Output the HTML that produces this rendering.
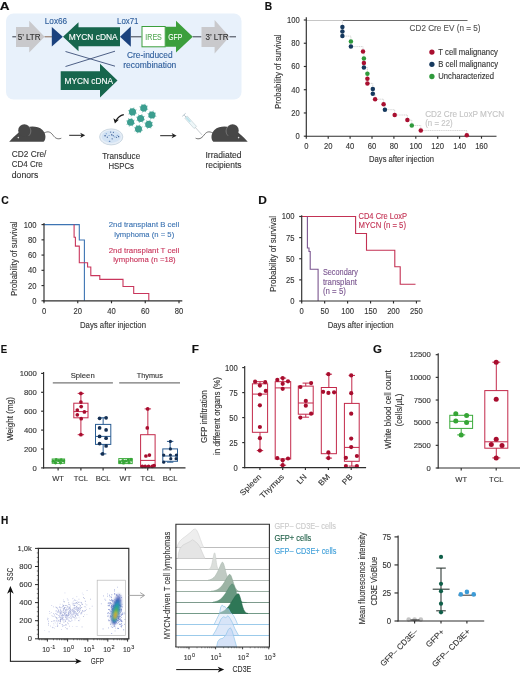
<!DOCTYPE html><html><head><meta charset="utf-8"><style>html,body{margin:0;padding:0;background:#fff;width:520px;height:675px;overflow:hidden}svg{display:block;will-change:transform;font-family:"Liberation Sans",sans-serif}</style></head><body>
<svg width="520" height="675" viewBox="0 0 520 675">
<defs><filter id="blur1" x="-50%" y="-50%" width="200%" height="200%"><feGaussianBlur stdDeviation="0.85"/></filter><filter id="blur2" x="-10%" y="-10%" width="120%" height="120%"><feGaussianBlur stdDeviation="0.35"/></filter></defs>
<rect width="520" height="675" fill="#fff"/>
<text x="-0.30" y="9.97" font-size="11" font-weight="bold" fill="#111" stroke="#111" stroke-width="0.15" textLength="9.80" lengthAdjust="spacingAndGlyphs">A</text>
<rect x="6.00" y="13.50" width="235.50" height="86.00" rx="7.5" fill="#e8f1fb" stroke="none" stroke-width="1.0"/>
<line x1="12.30" y1="36.80" x2="16.00" y2="36.80" stroke="#3a3f4a" stroke-width="1"/>
<polygon points="16.00,27.00 29.20,27.00 29.20,20.80 44.60,36.80 29.20,52.50 29.20,47.00 16.00,47.00" fill="#c9c9cc" stroke="none" stroke-width="0"/>
<text x="29.20" y="39.88" font-size="8.6" fill="#333" stroke="#333" stroke-width="0.12" text-anchor="middle" textLength="23.00" lengthAdjust="spacingAndGlyphs">5’ LTR</text>
<line x1="44.60" y1="36.80" x2="52.00" y2="36.80" stroke="#8a6a55" stroke-width="1"/>
<polygon points="51.80,27.00 51.80,46.50 62.80,36.80" fill="#1b427e" stroke="none" stroke-width="0"/>
<polygon points="63.00,36.80 78.50,22.30 78.50,27.20 120.00,27.20 120.00,46.20 78.50,46.20 78.50,51.20" fill="#17664d" stroke="none" stroke-width="0"/>
<text x="93.20" y="39.95" font-size="8.8" fill="#fff" stroke="#fff" stroke-width="0.12" text-anchor="middle" textLength="49.00" lengthAdjust="spacingAndGlyphs">MYCN cDNA</text>
<polygon points="120.00,36.80 130.80,26.60 130.80,46.80" fill="#1b427e" stroke="none" stroke-width="0"/>
<line x1="130.80" y1="36.80" x2="141.50" y2="36.80" stroke="#3a3f4a" stroke-width="1"/>
<rect x="142.00" y="26.50" width="23.20" height="20.30" rx="0" fill="#fff" stroke="#3c9f3c" stroke-width="1"/>
<text x="153.60" y="39.81" font-size="8.4" fill="#5aab5a" stroke="#5aab5a" stroke-width="0.12" text-anchor="middle" textLength="16.50" lengthAdjust="spacingAndGlyphs">IRES</text>
<polygon points="165.40,26.80 176.00,26.80 176.00,20.80 192.80,36.80 176.00,52.50 176.00,46.80 165.40,46.80" fill="#3c9f3c" stroke="none" stroke-width="0"/>
<text x="175.30" y="39.88" font-size="8.6" fill="#fff" stroke="#fff" stroke-width="0.12" text-anchor="middle" textLength="14.00" lengthAdjust="spacingAndGlyphs">GFP</text>
<line x1="192.80" y1="36.80" x2="201.50" y2="36.80" stroke="#3a3f4a" stroke-width="1"/>
<polygon points="201.50,27.00 214.60,27.00 214.60,20.00 229.50,36.80 214.60,53.60 214.60,47.00 201.50,47.00" fill="#c9c9cc" stroke="none" stroke-width="0"/>
<text x="217.00" y="39.88" font-size="8.6" fill="#333" stroke="#333" stroke-width="0.12" text-anchor="middle" textLength="23.00" lengthAdjust="spacingAndGlyphs">3’ LTR</text>
<line x1="229.50" y1="36.80" x2="236.00" y2="36.80" stroke="#3a3f4a" stroke-width="1"/>
<text x="44.80" y="23.61" font-size="8.4" fill="#2d5d9b" stroke="#2d5d9b" stroke-width="0.12" textLength="22.40" lengthAdjust="spacingAndGlyphs">Lox66</text>
<text x="117.00" y="23.61" font-size="8.4" fill="#2d5d9b" stroke="#2d5d9b" stroke-width="0.12" textLength="21.50" lengthAdjust="spacingAndGlyphs">Lox71</text>
<line x1="65.50" y1="51.50" x2="115.00" y2="66.20" stroke="#3c4f78" stroke-width="0.9"/>
<line x1="65.50" y1="66.50" x2="115.00" y2="51.20" stroke="#3c4f78" stroke-width="0.9"/>
<text x="149.80" y="57.61" font-size="8.4" fill="#2d5d9b" stroke="#2d5d9b" stroke-width="0.12" text-anchor="middle" textLength="45.50" lengthAdjust="spacingAndGlyphs">Cre-induced</text>
<text x="149.80" y="68.21" font-size="8.4" fill="#2d5d9b" stroke="#2d5d9b" stroke-width="0.12" text-anchor="middle" textLength="53.00" lengthAdjust="spacingAndGlyphs">recombination</text>
<polygon points="60.70,71.20 100.00,71.20 100.00,63.70 117.50,80.50 100.00,97.50 100.00,90.00 60.70,90.00" fill="#17664d" stroke="none" stroke-width="0"/>
<text x="88.80" y="83.65" font-size="8.8" fill="#fff" stroke="#fff" stroke-width="0.12" text-anchor="middle" textLength="48.50" lengthAdjust="spacingAndGlyphs">MYCN cDNA</text>
<g>
<path d="M9.2,141.7 L43.6,141.7 C46.2,139.5 46.2,133.5 42.5,130 C38.5,126.3 31.5,126 27.5,127.3 C21,129.5 14.5,136 9.2,141.7 Z" fill="#474747"/>
<circle cx="24.3" cy="130.4" r="6.1" fill="#474747"/>
<path d="M28.6,126.4 C31.4,128.6 31.6,133 28.8,135.8" fill="none" stroke="#9a9a9a" stroke-width="0.55"/>
<circle cx="18.3" cy="137.6" r="0.8" fill="#ddd"/>
<path d="M43.6,133.2 C48.5,130.6 50.5,132 53,135.2 C55.5,138.6 58,139.6 61.3,138.2" fill="none" stroke="#474747" stroke-width="0.75"/>
</g>
<g transform="translate(256.9 0) scale(-1 1)">
<path d="M9.2,141.7 L43.6,141.7 C46.2,139.5 46.2,133.5 42.5,130 C38.5,126.3 31.5,126 27.5,127.3 C21,129.5 14.5,136 9.2,141.7 Z" fill="#474747"/>
<circle cx="24.3" cy="130.4" r="6.1" fill="#474747"/>
<path d="M28.6,126.4 C31.4,128.6 31.6,133 28.8,135.8" fill="none" stroke="#9a9a9a" stroke-width="0.55"/>
<circle cx="18.3" cy="137.6" r="0.8" fill="#ddd"/>
<path d="M43.6,133.2 C48.5,130.6 50.5,132 53,135.2 C55.5,138.6 58,139.6 61.3,138.2" fill="none" stroke="#474747" stroke-width="0.75"/>
</g>
<line x1="69.20" y1="135.30" x2="82.20" y2="135.30" stroke="#222" stroke-width="1"/>
<polygon points="85.20,135.30 80.20,132.70 81.60,135.30 80.20,137.90" fill="#222" stroke="none" stroke-width="0"/>
<line x1="160.20" y1="135.70" x2="173.60" y2="135.70" stroke="#222" stroke-width="1"/>
<polygon points="176.60,135.70 171.60,133.10 173.00,135.70 171.60,138.30" fill="#222" stroke="none" stroke-width="0"/>
<ellipse cx="111.2" cy="136.9" rx="11.6" ry="8.0" fill="#e6eef7" stroke="#c3d0dc" stroke-width="0.8"/>
<ellipse cx="111.2" cy="136.7" rx="9.6" ry="6.2" fill="#d3e3f4"/>
<circle cx="106.26" cy="133.82" r="0.55" fill="#5f8cc4" stroke="none" stroke-width="0"/>
<circle cx="113.38" cy="132.23" r="0.55" fill="#2b4f8c" stroke="none" stroke-width="0"/>
<circle cx="110.71" cy="132.10" r="0.55" fill="#2b4f8c" stroke="none" stroke-width="0"/>
<circle cx="116.57" cy="137.29" r="0.55" fill="#2b4f8c" stroke="none" stroke-width="0"/>
<circle cx="117.24" cy="135.35" r="0.55" fill="#5f8cc4" stroke="none" stroke-width="0"/>
<circle cx="113.39" cy="135.76" r="0.55" fill="#2b4f8c" stroke="none" stroke-width="0"/>
<circle cx="107.30" cy="137.16" r="0.55" fill="#2b4f8c" stroke="none" stroke-width="0"/>
<circle cx="105.37" cy="135.71" r="0.55" fill="#2b4f8c" stroke="none" stroke-width="0"/>
<circle cx="114.91" cy="136.88" r="0.55" fill="#5f8cc4" stroke="none" stroke-width="0"/>
<circle cx="109.79" cy="141.22" r="0.55" fill="#2b4f8c" stroke="none" stroke-width="0"/>
<circle cx="111.52" cy="134.79" r="0.55" fill="#2b4f8c" stroke="none" stroke-width="0"/>
<circle cx="112.07" cy="134.99" r="0.55" fill="#2b4f8c" stroke="none" stroke-width="0"/>
<circle cx="109.09" cy="135.55" r="0.55" fill="#5f8cc4" stroke="none" stroke-width="0"/>
<circle cx="118.67" cy="136.75" r="0.55" fill="#2b4f8c" stroke="none" stroke-width="0"/>
<circle cx="112.14" cy="138.86" r="0.55" fill="#2b4f8c" stroke="none" stroke-width="0"/>
<circle cx="118.63" cy="136.21" r="0.55" fill="#2b4f8c" stroke="none" stroke-width="0"/>
<circle cx="109.28" cy="141.26" r="0.55" fill="#5f8cc4" stroke="none" stroke-width="0"/>
<circle cx="104.81" cy="135.74" r="0.55" fill="#2b4f8c" stroke="none" stroke-width="0"/>
<path d="M123.8,114.6 C120.0,115.4 117.6,117.6 116.2,120.6" fill="none" stroke="#1a1a1a" stroke-width="1.3"/>
<polygon points="114.90,123.60 113.40,118.30 116.00,120.00 119.00,119.60" fill="#1a1a1a" stroke="none" stroke-width="0"/>
<line x1="135.56" y1="112.85" x2="136.89" y2="113.26" stroke="#3c9e8f" stroke-width="0.6"/>
<line x1="133.99" y1="114.73" x2="134.65" y2="115.97" stroke="#3c9e8f" stroke-width="0.6"/>
<line x1="131.55" y1="114.96" x2="131.14" y2="116.29" stroke="#3c9e8f" stroke-width="0.6"/>
<line x1="129.67" y1="113.39" x2="128.43" y2="114.05" stroke="#3c9e8f" stroke-width="0.6"/>
<line x1="129.44" y1="110.95" x2="128.11" y2="110.54" stroke="#3c9e8f" stroke-width="0.6"/>
<line x1="131.01" y1="109.07" x2="130.35" y2="107.83" stroke="#3c9e8f" stroke-width="0.6"/>
<line x1="133.45" y1="108.84" x2="133.86" y2="107.51" stroke="#3c9e8f" stroke-width="0.6"/>
<line x1="135.33" y1="110.41" x2="136.57" y2="109.75" stroke="#3c9e8f" stroke-width="0.6"/>
<circle cx="132.50" cy="111.90" r="3.55" fill="#3c9e8f" stroke="none" stroke-width="0"/>
<line x1="146.81" y1="109.05" x2="148.14" y2="109.46" stroke="#3c9e8f" stroke-width="0.6"/>
<line x1="145.24" y1="110.93" x2="145.90" y2="112.17" stroke="#3c9e8f" stroke-width="0.6"/>
<line x1="142.80" y1="111.16" x2="142.39" y2="112.49" stroke="#3c9e8f" stroke-width="0.6"/>
<line x1="140.92" y1="109.59" x2="139.68" y2="110.25" stroke="#3c9e8f" stroke-width="0.6"/>
<line x1="140.69" y1="107.15" x2="139.36" y2="106.74" stroke="#3c9e8f" stroke-width="0.6"/>
<line x1="142.26" y1="105.27" x2="141.60" y2="104.03" stroke="#3c9e8f" stroke-width="0.6"/>
<line x1="144.70" y1="105.04" x2="145.11" y2="103.71" stroke="#3c9e8f" stroke-width="0.6"/>
<line x1="146.58" y1="106.61" x2="147.82" y2="105.95" stroke="#3c9e8f" stroke-width="0.6"/>
<circle cx="143.75" cy="108.10" r="3.55" fill="#3c9e8f" stroke="none" stroke-width="0"/>
<line x1="154.96" y1="115.95" x2="156.29" y2="116.36" stroke="#3c9e8f" stroke-width="0.6"/>
<line x1="153.39" y1="117.83" x2="154.05" y2="119.07" stroke="#3c9e8f" stroke-width="0.6"/>
<line x1="150.95" y1="118.06" x2="150.54" y2="119.39" stroke="#3c9e8f" stroke-width="0.6"/>
<line x1="149.07" y1="116.49" x2="147.83" y2="117.15" stroke="#3c9e8f" stroke-width="0.6"/>
<line x1="148.84" y1="114.05" x2="147.51" y2="113.64" stroke="#3c9e8f" stroke-width="0.6"/>
<line x1="150.41" y1="112.17" x2="149.75" y2="110.93" stroke="#3c9e8f" stroke-width="0.6"/>
<line x1="152.85" y1="111.94" x2="153.26" y2="110.61" stroke="#3c9e8f" stroke-width="0.6"/>
<line x1="154.73" y1="113.51" x2="155.97" y2="112.85" stroke="#3c9e8f" stroke-width="0.6"/>
<circle cx="151.90" cy="115.00" r="3.55" fill="#3c9e8f" stroke="none" stroke-width="0"/>
<line x1="143.66" y1="119.45" x2="144.99" y2="119.86" stroke="#3c9e8f" stroke-width="0.6"/>
<line x1="142.09" y1="121.33" x2="142.75" y2="122.57" stroke="#3c9e8f" stroke-width="0.6"/>
<line x1="139.65" y1="121.56" x2="139.24" y2="122.89" stroke="#3c9e8f" stroke-width="0.6"/>
<line x1="137.77" y1="119.99" x2="136.53" y2="120.65" stroke="#3c9e8f" stroke-width="0.6"/>
<line x1="137.54" y1="117.55" x2="136.21" y2="117.14" stroke="#3c9e8f" stroke-width="0.6"/>
<line x1="139.11" y1="115.67" x2="138.45" y2="114.43" stroke="#3c9e8f" stroke-width="0.6"/>
<line x1="141.55" y1="115.44" x2="141.96" y2="114.11" stroke="#3c9e8f" stroke-width="0.6"/>
<line x1="143.43" y1="117.01" x2="144.67" y2="116.35" stroke="#3c9e8f" stroke-width="0.6"/>
<circle cx="140.60" cy="118.50" r="3.55" fill="#3c9e8f" stroke="none" stroke-width="0"/>
<line x1="133.66" y1="123.20" x2="134.99" y2="123.61" stroke="#3c9e8f" stroke-width="0.6"/>
<line x1="132.09" y1="125.08" x2="132.75" y2="126.32" stroke="#3c9e8f" stroke-width="0.6"/>
<line x1="129.65" y1="125.31" x2="129.24" y2="126.64" stroke="#3c9e8f" stroke-width="0.6"/>
<line x1="127.77" y1="123.74" x2="126.53" y2="124.40" stroke="#3c9e8f" stroke-width="0.6"/>
<line x1="127.54" y1="121.30" x2="126.21" y2="120.89" stroke="#3c9e8f" stroke-width="0.6"/>
<line x1="129.11" y1="119.42" x2="128.45" y2="118.18" stroke="#3c9e8f" stroke-width="0.6"/>
<line x1="131.55" y1="119.19" x2="131.96" y2="117.86" stroke="#3c9e8f" stroke-width="0.6"/>
<line x1="133.43" y1="120.76" x2="134.67" y2="120.10" stroke="#3c9e8f" stroke-width="0.6"/>
<circle cx="130.60" cy="122.25" r="3.55" fill="#3c9e8f" stroke="none" stroke-width="0"/>
<line x1="151.81" y1="125.35" x2="153.14" y2="125.76" stroke="#3c9e8f" stroke-width="0.6"/>
<line x1="150.24" y1="127.23" x2="150.90" y2="128.47" stroke="#3c9e8f" stroke-width="0.6"/>
<line x1="147.80" y1="127.46" x2="147.39" y2="128.79" stroke="#3c9e8f" stroke-width="0.6"/>
<line x1="145.92" y1="125.89" x2="144.68" y2="126.55" stroke="#3c9e8f" stroke-width="0.6"/>
<line x1="145.69" y1="123.45" x2="144.36" y2="123.04" stroke="#3c9e8f" stroke-width="0.6"/>
<line x1="147.26" y1="121.57" x2="146.60" y2="120.33" stroke="#3c9e8f" stroke-width="0.6"/>
<line x1="149.70" y1="121.34" x2="150.11" y2="120.01" stroke="#3c9e8f" stroke-width="0.6"/>
<line x1="151.58" y1="122.91" x2="152.82" y2="122.25" stroke="#3c9e8f" stroke-width="0.6"/>
<circle cx="148.75" cy="124.40" r="3.55" fill="#3c9e8f" stroke="none" stroke-width="0"/>
<line x1="141.56" y1="129.95" x2="142.89" y2="130.36" stroke="#3c9e8f" stroke-width="0.6"/>
<line x1="139.99" y1="131.83" x2="140.65" y2="133.07" stroke="#3c9e8f" stroke-width="0.6"/>
<line x1="137.55" y1="132.06" x2="137.14" y2="133.39" stroke="#3c9e8f" stroke-width="0.6"/>
<line x1="135.67" y1="130.49" x2="134.43" y2="131.15" stroke="#3c9e8f" stroke-width="0.6"/>
<line x1="135.44" y1="128.05" x2="134.11" y2="127.64" stroke="#3c9e8f" stroke-width="0.6"/>
<line x1="137.01" y1="126.17" x2="136.35" y2="124.93" stroke="#3c9e8f" stroke-width="0.6"/>
<line x1="139.45" y1="125.94" x2="139.86" y2="124.61" stroke="#3c9e8f" stroke-width="0.6"/>
<line x1="141.33" y1="127.51" x2="142.57" y2="126.85" stroke="#3c9e8f" stroke-width="0.6"/>
<circle cx="138.50" cy="129.00" r="3.55" fill="#3c9e8f" stroke="none" stroke-width="0"/>
<g transform="translate(184.3 115.2) rotate(48)">
<rect x="2.5" y="-1.6" width="14" height="3.2" fill="#eef7f9" stroke="#b4c4ca" stroke-width="0.5"/>
<rect x="3" y="-1.0" width="6" height="2" fill="#bfe4ec"/>
<line x1="0" y1="0" x2="2.5" y2="0" stroke="#a9b9c3" stroke-width="0.8"/>
<line x1="-0.5" y1="-2.2" x2="-0.5" y2="2.2" stroke="#a9b9c3" stroke-width="0.8"/>
<line x1="16.5" y1="0" x2="26.5" y2="0" stroke="#9aa4aa" stroke-width="0.5"/>
</g>
<text x="11.80" y="157.37" font-size="8.3" fill="#333333" stroke="#333333" stroke-width="0.12" textLength="34.50" lengthAdjust="spacingAndGlyphs">CD2 Cre/</text>
<text x="11.80" y="167.47" font-size="8.3" fill="#333333" stroke="#333333" stroke-width="0.12" textLength="31.00" lengthAdjust="spacingAndGlyphs">CD4 Cre</text>
<text x="11.80" y="177.57" font-size="8.3" fill="#333333" stroke="#333333" stroke-width="0.12" textLength="26.50" lengthAdjust="spacingAndGlyphs">donors</text>
<text x="121.20" y="159.27" font-size="8.3" fill="#333333" stroke="#333333" stroke-width="0.12" text-anchor="middle" textLength="38.00" lengthAdjust="spacingAndGlyphs">Transduce</text>
<text x="121.20" y="169.27" font-size="8.3" fill="#333333" stroke="#333333" stroke-width="0.12" text-anchor="middle" textLength="25.50" lengthAdjust="spacingAndGlyphs">HSPCs</text>
<text x="223.50" y="158.37" font-size="8.3" fill="#333333" stroke="#333333" stroke-width="0.12" text-anchor="middle" textLength="36.00" lengthAdjust="spacingAndGlyphs">Irradiated</text>
<text x="223.50" y="168.37" font-size="8.3" fill="#333333" stroke="#333333" stroke-width="0.12" text-anchor="middle" textLength="36.00" lengthAdjust="spacingAndGlyphs">recipients</text>
<text x="264.70" y="9.67" font-size="11" font-weight="bold" fill="#111" stroke="#111" stroke-width="0.15" textLength="7.40" lengthAdjust="spacingAndGlyphs">B</text>
<line x1="342.40" y1="20.50" x2="467.50" y2="20.50" stroke="#6a6a6a" stroke-width="1.1"/>
<line x1="306.30" y1="20.50" x2="342.40" y2="20.50" stroke="#c6c6c6" stroke-width="1.1"/>
<polyline points="342.40,20.00 342.40,20.00 342.40,27.10 342.40,27.10 342.40,31.60 342.40,31.60 342.40,36.10 350.90,36.10 350.90,41.60 350.90,41.60 350.90,46.60 363.00,46.60 363.00,51.60 363.90,51.60 363.90,58.50 363.90,58.50 363.90,63.00 363.90,63.00 363.90,67.50 367.40,67.50 367.40,73.80 367.40,73.80 367.40,78.70 367.40,78.70 367.40,83.40 372.80,83.40 372.80,88.90 372.80,88.90 372.80,93.80 375.10,93.80 375.10,99.20 383.60,99.20 383.60,104.20 384.90,104.20 384.90,109.70 394.70,109.70 394.70,115.00 407.40,115.00 407.40,120.10 411.80,120.10 411.80,125.50 420.80,125.50 420.80,130.50 466.80,130.50 466.80,135.20" fill="none" stroke="#c4c4c4" stroke-width="0.7" stroke-dasharray="1.2 0.6"/>
<line x1="306.30" y1="17.30" x2="306.30" y2="136.77" stroke="#2e2e2e" stroke-width="1.15"/>
<line x1="303.80" y1="20.00" x2="306.30" y2="20.00" stroke="#2e2e2e" stroke-width="1.15"/>
<text x="299.80" y="22.97" font-size="8.3" fill="#333333" stroke="#333333" stroke-width="0.12" text-anchor="end" textLength="12.74" lengthAdjust="spacingAndGlyphs">100</text>
<line x1="303.80" y1="43.24" x2="306.30" y2="43.24" stroke="#2e2e2e" stroke-width="1.15"/>
<text x="299.80" y="46.21" font-size="8.3" fill="#333333" stroke="#333333" stroke-width="0.12" text-anchor="end" textLength="8.49" lengthAdjust="spacingAndGlyphs">80</text>
<line x1="303.80" y1="66.48" x2="306.30" y2="66.48" stroke="#2e2e2e" stroke-width="1.15"/>
<text x="299.80" y="69.45" font-size="8.3" fill="#333333" stroke="#333333" stroke-width="0.12" text-anchor="end" textLength="8.49" lengthAdjust="spacingAndGlyphs">60</text>
<line x1="303.80" y1="89.72" x2="306.30" y2="89.72" stroke="#2e2e2e" stroke-width="1.15"/>
<text x="299.80" y="92.69" font-size="8.3" fill="#333333" stroke="#333333" stroke-width="0.12" text-anchor="end" textLength="8.49" lengthAdjust="spacingAndGlyphs">40</text>
<line x1="303.80" y1="112.96" x2="306.30" y2="112.96" stroke="#2e2e2e" stroke-width="1.15"/>
<text x="299.80" y="115.93" font-size="8.3" fill="#333333" stroke="#333333" stroke-width="0.12" text-anchor="end" textLength="8.49" lengthAdjust="spacingAndGlyphs">20</text>
<line x1="303.80" y1="136.20" x2="306.30" y2="136.20" stroke="#2e2e2e" stroke-width="1.15"/>
<text x="299.80" y="139.17" font-size="8.3" fill="#333333" stroke="#333333" stroke-width="0.12" text-anchor="end" textLength="4.25" lengthAdjust="spacingAndGlyphs">0</text>
<line x1="305.73" y1="136.20" x2="496.50" y2="136.20" stroke="#2e2e2e" stroke-width="1.15"/>
<line x1="306.30" y1="136.20" x2="306.30" y2="138.70" stroke="#2e2e2e" stroke-width="1.15"/>
<text x="306.30" y="148.97" font-size="8.3" fill="#333333" stroke="#333333" stroke-width="0.12" text-anchor="middle" textLength="4.25" lengthAdjust="spacingAndGlyphs">0</text>
<line x1="328.20" y1="136.20" x2="328.20" y2="138.70" stroke="#2e2e2e" stroke-width="1.15"/>
<text x="328.20" y="148.97" font-size="8.3" fill="#333333" stroke="#333333" stroke-width="0.12" text-anchor="middle" textLength="8.49" lengthAdjust="spacingAndGlyphs">20</text>
<line x1="350.10" y1="136.20" x2="350.10" y2="138.70" stroke="#2e2e2e" stroke-width="1.15"/>
<text x="350.10" y="148.97" font-size="8.3" fill="#333333" stroke="#333333" stroke-width="0.12" text-anchor="middle" textLength="8.49" lengthAdjust="spacingAndGlyphs">40</text>
<line x1="372.00" y1="136.20" x2="372.00" y2="138.70" stroke="#2e2e2e" stroke-width="1.15"/>
<text x="372.00" y="148.97" font-size="8.3" fill="#333333" stroke="#333333" stroke-width="0.12" text-anchor="middle" textLength="8.49" lengthAdjust="spacingAndGlyphs">60</text>
<line x1="393.90" y1="136.20" x2="393.90" y2="138.70" stroke="#2e2e2e" stroke-width="1.15"/>
<text x="393.90" y="148.97" font-size="8.3" fill="#333333" stroke="#333333" stroke-width="0.12" text-anchor="middle" textLength="8.49" lengthAdjust="spacingAndGlyphs">80</text>
<line x1="415.80" y1="136.20" x2="415.80" y2="138.70" stroke="#2e2e2e" stroke-width="1.15"/>
<text x="415.80" y="148.97" font-size="8.3" fill="#333333" stroke="#333333" stroke-width="0.12" text-anchor="middle" textLength="12.74" lengthAdjust="spacingAndGlyphs">100</text>
<line x1="437.70" y1="136.20" x2="437.70" y2="138.70" stroke="#2e2e2e" stroke-width="1.15"/>
<text x="437.70" y="148.97" font-size="8.3" fill="#333333" stroke="#333333" stroke-width="0.12" text-anchor="middle" textLength="12.74" lengthAdjust="spacingAndGlyphs">120</text>
<line x1="459.60" y1="136.20" x2="459.60" y2="138.70" stroke="#2e2e2e" stroke-width="1.15"/>
<text x="459.60" y="148.97" font-size="8.3" fill="#333333" stroke="#333333" stroke-width="0.12" text-anchor="middle" textLength="12.74" lengthAdjust="spacingAndGlyphs">140</text>
<line x1="481.50" y1="136.20" x2="481.50" y2="138.70" stroke="#2e2e2e" stroke-width="1.15"/>
<text x="481.50" y="148.97" font-size="8.3" fill="#333333" stroke="#333333" stroke-width="0.12" text-anchor="middle" textLength="12.74" lengthAdjust="spacingAndGlyphs">160</text>
<circle cx="342.40" cy="27.10" r="2.25" fill="#16395e" stroke="none" stroke-width="0"/>
<circle cx="342.40" cy="31.60" r="2.25" fill="#16395e" stroke="none" stroke-width="0"/>
<circle cx="342.40" cy="36.10" r="2.25" fill="#16395e" stroke="none" stroke-width="0"/>
<circle cx="350.90" cy="41.60" r="2.25" fill="#2f9a3c" stroke="none" stroke-width="0"/>
<circle cx="350.90" cy="46.60" r="2.25" fill="#16395e" stroke="none" stroke-width="0"/>
<circle cx="363.00" cy="51.60" r="2.25" fill="#a90f30" stroke="none" stroke-width="0"/>
<circle cx="363.90" cy="58.50" r="2.25" fill="#2f9a3c" stroke="none" stroke-width="0"/>
<circle cx="363.90" cy="63.00" r="2.25" fill="#a90f30" stroke="none" stroke-width="0"/>
<circle cx="363.90" cy="67.50" r="2.25" fill="#16395e" stroke="none" stroke-width="0"/>
<circle cx="367.40" cy="73.80" r="2.25" fill="#2f9a3c" stroke="none" stroke-width="0"/>
<circle cx="367.40" cy="78.70" r="2.25" fill="#a90f30" stroke="none" stroke-width="0"/>
<circle cx="367.40" cy="83.40" r="2.25" fill="#a90f30" stroke="none" stroke-width="0"/>
<circle cx="372.80" cy="88.90" r="2.25" fill="#16395e" stroke="none" stroke-width="0"/>
<circle cx="372.80" cy="93.80" r="2.25" fill="#16395e" stroke="none" stroke-width="0"/>
<circle cx="375.10" cy="99.20" r="2.25" fill="#a90f30" stroke="none" stroke-width="0"/>
<circle cx="383.60" cy="104.20" r="2.25" fill="#a90f30" stroke="none" stroke-width="0"/>
<circle cx="384.90" cy="109.70" r="2.25" fill="#16395e" stroke="none" stroke-width="0"/>
<circle cx="394.70" cy="115.00" r="2.25" fill="#a90f30" stroke="none" stroke-width="0"/>
<circle cx="407.40" cy="120.10" r="2.25" fill="#a90f30" stroke="none" stroke-width="0"/>
<circle cx="411.80" cy="125.50" r="2.25" fill="#2f9a3c" stroke="none" stroke-width="0"/>
<circle cx="420.80" cy="130.50" r="2.25" fill="#a90f30" stroke="none" stroke-width="0"/>
<circle cx="466.80" cy="135.20" r="2.25" fill="#a90f30" stroke="none" stroke-width="0"/>
<text x="0" y="3.22" font-size="9" fill="#333333" stroke="#333333" stroke-width="0.12" text-anchor="middle" textLength="74.50" lengthAdjust="spacingAndGlyphs" transform="translate(277.60 71.70) rotate(-90)">Probability of survival</text>
<text x="401.50" y="162.15" font-size="8.8" fill="#333333" stroke="#333333" stroke-width="0.12" text-anchor="middle" textLength="64.80" lengthAdjust="spacingAndGlyphs">Days after injection</text>
<text x="409.60" y="30.81" font-size="8.4" fill="#555" stroke="#555" stroke-width="0.12" textLength="71.00" lengthAdjust="spacingAndGlyphs">CD2 Cre EV (n = 5)</text>
<text x="425.20" y="117.01" font-size="8.4" fill="#c4c4c4" stroke="#c4c4c4" stroke-width="0.12" textLength="79.00" lengthAdjust="spacingAndGlyphs">CD2 Cre LoxP MYCN</text>
<text x="425.20" y="125.91" font-size="8.4" fill="#c4c4c4" stroke="#c4c4c4" stroke-width="0.12" textLength="27.50" lengthAdjust="spacingAndGlyphs">(n = 22)</text>
<circle cx="431.90" cy="52.10" r="2.65" fill="#a90f30" stroke="none" stroke-width="0"/>
<text x="438.30" y="54.91" font-size="8.4" fill="#333" stroke="#333" stroke-width="0.12" textLength="59.60" lengthAdjust="spacingAndGlyphs">T cell malignancy</text>
<circle cx="431.90" cy="64.30" r="2.65" fill="#16395e" stroke="none" stroke-width="0"/>
<text x="438.30" y="67.11" font-size="8.4" fill="#333" stroke="#333" stroke-width="0.12" textLength="59.80" lengthAdjust="spacingAndGlyphs">B cell malignancy</text>
<circle cx="431.90" cy="76.50" r="2.65" fill="#2f9a3c" stroke="none" stroke-width="0"/>
<text x="438.30" y="79.31" font-size="8.4" fill="#333" stroke="#333" stroke-width="0.12" textLength="55.70" lengthAdjust="spacingAndGlyphs">Uncharacterized</text>
<text x="1.30" y="204.27" font-size="11" font-weight="bold" fill="#111" stroke="#111" stroke-width="0.15" textLength="7.50" lengthAdjust="spacingAndGlyphs">C</text>
<polyline points="44.00,224.60 79.30,224.60 79.30,240.00 84.40,240.00 84.40,300.80" fill="none" stroke="#3d74b3" stroke-width="1.1"/>
<polyline points="74.10,224.60 74.10,237.30 75.40,237.30 75.40,246.10 79.30,246.10 79.30,262.70 87.60,262.70 87.60,267.00 90.80,267.00 90.80,275.60 99.80,275.60 99.80,279.40 123.00,279.40 123.00,286.50 133.70,286.50 133.70,293.50 148.80,293.50 148.80,300.80" fill="none" stroke="#c9365c" stroke-width="1.1"/>
<line x1="44.00" y1="223.10" x2="44.00" y2="301.38" stroke="#2e2e2e" stroke-width="1.15"/>
<line x1="41.50" y1="224.60" x2="44.00" y2="224.60" stroke="#2e2e2e" stroke-width="1.15"/>
<text x="36.50" y="227.57" font-size="8.3" fill="#333333" stroke="#333333" stroke-width="0.12" text-anchor="end" textLength="12.74" lengthAdjust="spacingAndGlyphs">100</text>
<line x1="41.50" y1="239.84" x2="44.00" y2="239.84" stroke="#2e2e2e" stroke-width="1.15"/>
<text x="36.50" y="242.81" font-size="8.3" fill="#333333" stroke="#333333" stroke-width="0.12" text-anchor="end" textLength="8.49" lengthAdjust="spacingAndGlyphs">80</text>
<line x1="41.50" y1="255.08" x2="44.00" y2="255.08" stroke="#2e2e2e" stroke-width="1.15"/>
<text x="36.50" y="258.05" font-size="8.3" fill="#333333" stroke="#333333" stroke-width="0.12" text-anchor="end" textLength="8.49" lengthAdjust="spacingAndGlyphs">60</text>
<line x1="41.50" y1="270.32" x2="44.00" y2="270.32" stroke="#2e2e2e" stroke-width="1.15"/>
<text x="36.50" y="273.29" font-size="8.3" fill="#333333" stroke="#333333" stroke-width="0.12" text-anchor="end" textLength="8.49" lengthAdjust="spacingAndGlyphs">40</text>
<line x1="41.50" y1="285.56" x2="44.00" y2="285.56" stroke="#2e2e2e" stroke-width="1.15"/>
<text x="36.50" y="288.53" font-size="8.3" fill="#333333" stroke="#333333" stroke-width="0.12" text-anchor="end" textLength="8.49" lengthAdjust="spacingAndGlyphs">20</text>
<line x1="41.50" y1="300.80" x2="44.00" y2="300.80" stroke="#2e2e2e" stroke-width="1.15"/>
<text x="36.50" y="303.77" font-size="8.3" fill="#333333" stroke="#333333" stroke-width="0.12" text-anchor="end" textLength="4.25" lengthAdjust="spacingAndGlyphs">0</text>
<line x1="43.42" y1="300.80" x2="182.30" y2="300.80" stroke="#2e2e2e" stroke-width="1.15"/>
<line x1="44.00" y1="300.80" x2="44.00" y2="303.30" stroke="#2e2e2e" stroke-width="1.15"/>
<text x="44.00" y="314.37" font-size="8.3" fill="#333333" stroke="#333333" stroke-width="0.12" text-anchor="middle" textLength="4.25" lengthAdjust="spacingAndGlyphs">0</text>
<line x1="77.75" y1="300.80" x2="77.75" y2="303.30" stroke="#2e2e2e" stroke-width="1.15"/>
<text x="77.75" y="314.37" font-size="8.3" fill="#333333" stroke="#333333" stroke-width="0.12" text-anchor="middle" textLength="8.49" lengthAdjust="spacingAndGlyphs">20</text>
<line x1="111.50" y1="300.80" x2="111.50" y2="303.30" stroke="#2e2e2e" stroke-width="1.15"/>
<text x="111.50" y="314.37" font-size="8.3" fill="#333333" stroke="#333333" stroke-width="0.12" text-anchor="middle" textLength="8.49" lengthAdjust="spacingAndGlyphs">40</text>
<line x1="145.25" y1="300.80" x2="145.25" y2="303.30" stroke="#2e2e2e" stroke-width="1.15"/>
<text x="145.25" y="314.37" font-size="8.3" fill="#333333" stroke="#333333" stroke-width="0.12" text-anchor="middle" textLength="8.49" lengthAdjust="spacingAndGlyphs">60</text>
<line x1="179.00" y1="300.80" x2="179.00" y2="303.30" stroke="#2e2e2e" stroke-width="1.15"/>
<text x="179.00" y="314.37" font-size="8.3" fill="#333333" stroke="#333333" stroke-width="0.12" text-anchor="middle" textLength="8.49" lengthAdjust="spacingAndGlyphs">80</text>
<text x="0" y="3.22" font-size="9" fill="#333333" stroke="#333333" stroke-width="0.12" text-anchor="middle" textLength="74.50" lengthAdjust="spacingAndGlyphs" transform="translate(13.90 258.70) rotate(-90)">Probability of survival</text>
<text x="113.00" y="327.65" font-size="8.8" fill="#333333" stroke="#333333" stroke-width="0.12" text-anchor="middle" textLength="66.00" lengthAdjust="spacingAndGlyphs">Days after injection</text>
<text x="144.00" y="227.16" font-size="8" fill="#3d74b3" stroke="#3d74b3" stroke-width="0.12" text-anchor="middle" textLength="70.50" lengthAdjust="spacingAndGlyphs">2nd transplant B cell</text>
<text x="144.20" y="237.36" font-size="8" fill="#3d74b3" stroke="#3d74b3" stroke-width="0.12" text-anchor="middle" textLength="60.00" lengthAdjust="spacingAndGlyphs">lymphoma (n = 5)</text>
<text x="144.00" y="252.86" font-size="8" fill="#c9365c" stroke="#c9365c" stroke-width="0.12" text-anchor="middle" textLength="70.50" lengthAdjust="spacingAndGlyphs">2nd transplant T cell</text>
<text x="144.40" y="261.66" font-size="8" fill="#c9365c" stroke="#c9365c" stroke-width="0.12" text-anchor="middle" textLength="62.50" lengthAdjust="spacingAndGlyphs">lymphoma (n =18)</text>
<text x="258.30" y="204.27" font-size="11" font-weight="bold" fill="#111" stroke="#111" stroke-width="0.15" textLength="8.60" lengthAdjust="spacingAndGlyphs">D</text>
<polyline points="301.70,216.50 355.60,216.50 355.60,233.50 366.50,233.50 366.50,250.20 394.80,250.20 394.80,266.70 400.20,266.70 400.20,284.20 415.50,284.20" fill="none" stroke="#c33153" stroke-width="1.1"/>
<polyline points="307.40,216.50 307.40,248.00 309.00,248.00 309.00,251.50 310.20,251.50 310.20,269.20 318.10,269.20 318.10,301.00" fill="none" stroke="#7b5690" stroke-width="1.1"/>
<line x1="301.70" y1="215.30" x2="301.70" y2="301.57" stroke="#2e2e2e" stroke-width="1.15"/>
<line x1="299.20" y1="216.50" x2="301.70" y2="216.50" stroke="#2e2e2e" stroke-width="1.15"/>
<text x="294.60" y="219.47" font-size="8.3" fill="#333333" stroke="#333333" stroke-width="0.12" text-anchor="end" textLength="12.74" lengthAdjust="spacingAndGlyphs">100</text>
<line x1="299.20" y1="237.62" x2="301.70" y2="237.62" stroke="#2e2e2e" stroke-width="1.15"/>
<text x="294.60" y="240.60" font-size="8.3" fill="#333333" stroke="#333333" stroke-width="0.12" text-anchor="end" textLength="8.49" lengthAdjust="spacingAndGlyphs">75</text>
<line x1="299.20" y1="258.75" x2="301.70" y2="258.75" stroke="#2e2e2e" stroke-width="1.15"/>
<text x="294.60" y="261.72" font-size="8.3" fill="#333333" stroke="#333333" stroke-width="0.12" text-anchor="end" textLength="8.49" lengthAdjust="spacingAndGlyphs">50</text>
<line x1="299.20" y1="279.88" x2="301.70" y2="279.88" stroke="#2e2e2e" stroke-width="1.15"/>
<text x="294.60" y="282.85" font-size="8.3" fill="#333333" stroke="#333333" stroke-width="0.12" text-anchor="end" textLength="8.49" lengthAdjust="spacingAndGlyphs">25</text>
<line x1="299.20" y1="301.00" x2="301.70" y2="301.00" stroke="#2e2e2e" stroke-width="1.15"/>
<text x="294.60" y="303.97" font-size="8.3" fill="#333333" stroke="#333333" stroke-width="0.12" text-anchor="end" textLength="4.25" lengthAdjust="spacingAndGlyphs">0</text>
<line x1="301.12" y1="301.00" x2="420.60" y2="301.00" stroke="#2e2e2e" stroke-width="1.15"/>
<line x1="301.70" y1="301.00" x2="301.70" y2="303.50" stroke="#2e2e2e" stroke-width="1.15"/>
<text x="301.70" y="313.97" font-size="8.3" fill="#333333" stroke="#333333" stroke-width="0.12" text-anchor="middle" textLength="4.25" lengthAdjust="spacingAndGlyphs">0</text>
<line x1="324.65" y1="301.00" x2="324.65" y2="303.50" stroke="#2e2e2e" stroke-width="1.15"/>
<text x="324.65" y="313.97" font-size="8.3" fill="#333333" stroke="#333333" stroke-width="0.12" text-anchor="middle" textLength="8.49" lengthAdjust="spacingAndGlyphs">50</text>
<line x1="347.60" y1="301.00" x2="347.60" y2="303.50" stroke="#2e2e2e" stroke-width="1.15"/>
<text x="347.60" y="313.97" font-size="8.3" fill="#333333" stroke="#333333" stroke-width="0.12" text-anchor="middle" textLength="12.74" lengthAdjust="spacingAndGlyphs">100</text>
<line x1="370.55" y1="301.00" x2="370.55" y2="303.50" stroke="#2e2e2e" stroke-width="1.15"/>
<text x="370.55" y="313.97" font-size="8.3" fill="#333333" stroke="#333333" stroke-width="0.12" text-anchor="middle" textLength="12.74" lengthAdjust="spacingAndGlyphs">150</text>
<line x1="393.50" y1="301.00" x2="393.50" y2="303.50" stroke="#2e2e2e" stroke-width="1.15"/>
<text x="393.50" y="313.97" font-size="8.3" fill="#333333" stroke="#333333" stroke-width="0.12" text-anchor="middle" textLength="12.74" lengthAdjust="spacingAndGlyphs">200</text>
<line x1="416.45" y1="301.00" x2="416.45" y2="303.50" stroke="#2e2e2e" stroke-width="1.15"/>
<text x="416.45" y="313.97" font-size="8.3" fill="#333333" stroke="#333333" stroke-width="0.12" text-anchor="middle" textLength="12.74" lengthAdjust="spacingAndGlyphs">250</text>
<text x="0" y="3.22" font-size="9" fill="#333333" stroke="#333333" stroke-width="0.12" text-anchor="middle" textLength="76.00" lengthAdjust="spacingAndGlyphs" transform="translate(272.40 254.00) rotate(-90)">Probability of survival</text>
<text x="360.70" y="327.65" font-size="8.8" fill="#333333" stroke="#333333" stroke-width="0.12" text-anchor="middle" textLength="66.00" lengthAdjust="spacingAndGlyphs">Days after injection</text>
<text x="358.50" y="219.48" font-size="8.6" fill="#c33153" stroke="#c33153" stroke-width="0.12" textLength="48.50" lengthAdjust="spacingAndGlyphs">CD4 Cre LoxP</text>
<text x="358.50" y="228.28" font-size="8.6" fill="#c33153" stroke="#c33153" stroke-width="0.12" textLength="47.50" lengthAdjust="spacingAndGlyphs">MYCN (n = 5)</text>
<text x="322.90" y="275.38" font-size="8.6" fill="#7b5690" stroke="#7b5690" stroke-width="0.12" textLength="35.00" lengthAdjust="spacingAndGlyphs">Secondary</text>
<text x="322.90" y="284.98" font-size="8.6" fill="#7b5690" stroke="#7b5690" stroke-width="0.12" textLength="34.00" lengthAdjust="spacingAndGlyphs">transplant</text>
<text x="322.90" y="294.38" font-size="8.6" fill="#7b5690" stroke="#7b5690" stroke-width="0.12" textLength="23.00" lengthAdjust="spacingAndGlyphs">(n = 5)</text>
<text x="0.70" y="353.27" font-size="11" font-weight="bold" fill="#111" stroke="#111" stroke-width="0.15" textLength="6.40" lengthAdjust="spacingAndGlyphs">E</text>
<line x1="52.80" y1="382.80" x2="112.90" y2="382.80" stroke="#777" stroke-width="1.3"/>
<line x1="119.20" y1="382.80" x2="180.00" y2="382.80" stroke="#777" stroke-width="1.3"/>
<text x="82.70" y="378.22" font-size="7.6" fill="#333333" stroke="#333333" stroke-width="0.12" text-anchor="middle" textLength="24.00" lengthAdjust="spacingAndGlyphs">Spleen</text>
<text x="149.80" y="378.22" font-size="7.6" fill="#333333" stroke="#333333" stroke-width="0.12" text-anchor="middle" textLength="26.00" lengthAdjust="spacingAndGlyphs">Thymus</text>
<rect x="52.20" y="459.00" width="12.40" height="4.30" rx="0" fill="none" stroke="#3aaa3a" stroke-width="1.0"/>
<line x1="52.20" y1="461.20" x2="64.60" y2="461.20" stroke="#3aaa3a" stroke-width="1.0"/>
<circle cx="53.40" cy="461.20" r="1.6" fill="#36a536" stroke="none" stroke-width="0"/>
<circle cx="56.20" cy="459.70" r="1.6" fill="#36a536" stroke="none" stroke-width="0"/>
<circle cx="58.80" cy="460.50" r="1.6" fill="#36a536" stroke="none" stroke-width="0"/>
<circle cx="61.20" cy="459.90" r="1.6" fill="#36a536" stroke="none" stroke-width="0"/>
<circle cx="63.60" cy="460.80" r="1.6" fill="#36a536" stroke="none" stroke-width="0"/>
<circle cx="55.50" cy="462.80" r="1.6" fill="#36a536" stroke="none" stroke-width="0"/>
<circle cx="60.50" cy="462.80" r="1.6" fill="#36a536" stroke="none" stroke-width="0"/>
<line x1="80.90" y1="393.40" x2="80.90" y2="403.20" stroke="#c3294a" stroke-width="1.0"/>
<line x1="77.70" y1="393.40" x2="84.10" y2="393.40" stroke="#c3294a" stroke-width="1.0"/>
<line x1="80.90" y1="417.80" x2="80.90" y2="434.70" stroke="#c3294a" stroke-width="1.0"/>
<line x1="77.70" y1="434.70" x2="84.10" y2="434.70" stroke="#c3294a" stroke-width="1.0"/>
<rect x="73.80" y="403.20" width="14.20" height="14.60" rx="0" fill="none" stroke="#c3294a" stroke-width="1.0"/>
<line x1="73.80" y1="411.60" x2="88.00" y2="411.60" stroke="#c3294a" stroke-width="1.0"/>
<circle cx="80.90" cy="393.40" r="1.85" fill="#a80d2e" stroke="none" stroke-width="0"/>
<circle cx="80.90" cy="402.10" r="1.85" fill="#a80d2e" stroke="none" stroke-width="0"/>
<circle cx="81.20" cy="406.60" r="1.85" fill="#a80d2e" stroke="none" stroke-width="0"/>
<circle cx="77.30" cy="410.10" r="1.85" fill="#a80d2e" stroke="none" stroke-width="0"/>
<circle cx="84.40" cy="411.90" r="1.85" fill="#a80d2e" stroke="none" stroke-width="0"/>
<circle cx="77.30" cy="414.80" r="1.85" fill="#a80d2e" stroke="none" stroke-width="0"/>
<circle cx="81.20" cy="418.70" r="1.85" fill="#a80d2e" stroke="none" stroke-width="0"/>
<circle cx="80.90" cy="434.70" r="1.85" fill="#a80d2e" stroke="none" stroke-width="0"/>
<line x1="103.15" y1="417.80" x2="103.15" y2="424.40" stroke="#2a5d93" stroke-width="1.0"/>
<line x1="99.95" y1="417.80" x2="106.35" y2="417.80" stroke="#2a5d93" stroke-width="1.0"/>
<line x1="103.15" y1="444.40" x2="103.15" y2="453.90" stroke="#2a5d93" stroke-width="1.0"/>
<line x1="99.95" y1="453.90" x2="106.35" y2="453.90" stroke="#2a5d93" stroke-width="1.0"/>
<rect x="95.50" y="424.40" width="15.30" height="20.00" rx="0" fill="none" stroke="#2a5d93" stroke-width="1.0"/>
<line x1="95.50" y1="436.40" x2="110.80" y2="436.40" stroke="#2a5d93" stroke-width="1.0"/>
<circle cx="99.60" cy="418.30" r="1.85" fill="#142f53" stroke="none" stroke-width="0"/>
<circle cx="106.10" cy="417.80" r="1.85" fill="#142f53" stroke="none" stroke-width="0"/>
<circle cx="99.60" cy="427.90" r="1.85" fill="#142f53" stroke="none" stroke-width="0"/>
<circle cx="106.10" cy="429.90" r="1.85" fill="#142f53" stroke="none" stroke-width="0"/>
<circle cx="99.60" cy="436.40" r="1.85" fill="#142f53" stroke="none" stroke-width="0"/>
<circle cx="106.10" cy="438.20" r="1.85" fill="#142f53" stroke="none" stroke-width="0"/>
<circle cx="99.60" cy="443.60" r="1.85" fill="#142f53" stroke="none" stroke-width="0"/>
<circle cx="106.10" cy="445.90" r="1.85" fill="#142f53" stroke="none" stroke-width="0"/>
<circle cx="102.60" cy="453.90" r="1.85" fill="#142f53" stroke="none" stroke-width="0"/>
<rect x="118.80" y="458.60" width="13.40" height="5.00" rx="0" fill="none" stroke="#3aaa3a" stroke-width="1.0"/>
<line x1="118.80" y1="461.00" x2="132.20" y2="461.00" stroke="#3aaa3a" stroke-width="1.0"/>
<circle cx="120.00" cy="462.00" r="1.6" fill="#36a536" stroke="none" stroke-width="0"/>
<circle cx="122.80" cy="460.50" r="1.6" fill="#36a536" stroke="none" stroke-width="0"/>
<circle cx="125.50" cy="461.20" r="1.6" fill="#36a536" stroke="none" stroke-width="0"/>
<circle cx="128.20" cy="460.20" r="1.6" fill="#36a536" stroke="none" stroke-width="0"/>
<circle cx="131.00" cy="459.40" r="1.6" fill="#36a536" stroke="none" stroke-width="0"/>
<circle cx="123.50" cy="463.00" r="1.6" fill="#36a536" stroke="none" stroke-width="0"/>
<circle cx="129.00" cy="462.60" r="1.6" fill="#36a536" stroke="none" stroke-width="0"/>
<line x1="147.85" y1="408.90" x2="147.85" y2="434.70" stroke="#c3294a" stroke-width="1.0"/>
<line x1="144.65" y1="408.90" x2="151.05" y2="408.90" stroke="#c3294a" stroke-width="1.0"/>
<rect x="140.60" y="434.70" width="14.50" height="32.30" rx="0" fill="none" stroke="#c3294a" stroke-width="1.0"/>
<line x1="140.60" y1="460.40" x2="155.10" y2="460.40" stroke="#c3294a" stroke-width="1.0"/>
<circle cx="147.70" cy="408.90" r="1.85" fill="#a80d2e" stroke="none" stroke-width="0"/>
<circle cx="147.30" cy="427.90" r="1.85" fill="#a80d2e" stroke="none" stroke-width="0"/>
<circle cx="145.90" cy="456.00" r="1.85" fill="#a80d2e" stroke="none" stroke-width="0"/>
<circle cx="149.40" cy="455.10" r="1.85" fill="#a80d2e" stroke="none" stroke-width="0"/>
<circle cx="142.30" cy="466.30" r="1.85" fill="#a80d2e" stroke="none" stroke-width="0"/>
<circle cx="145.20" cy="466.30" r="1.85" fill="#a80d2e" stroke="none" stroke-width="0"/>
<circle cx="148.60" cy="466.30" r="1.85" fill="#a80d2e" stroke="none" stroke-width="0"/>
<circle cx="152.20" cy="466.30" r="1.85" fill="#a80d2e" stroke="none" stroke-width="0"/>
<circle cx="154.00" cy="465.50" r="1.85" fill="#a80d2e" stroke="none" stroke-width="0"/>
<line x1="170.15" y1="441.40" x2="170.15" y2="448.90" stroke="#2a5d93" stroke-width="1.0"/>
<line x1="166.95" y1="441.40" x2="173.35" y2="441.40" stroke="#2a5d93" stroke-width="1.0"/>
<line x1="170.15" y1="461.30" x2="170.15" y2="462.20" stroke="#2a5d93" stroke-width="1.0"/>
<line x1="166.95" y1="462.20" x2="173.35" y2="462.20" stroke="#2a5d93" stroke-width="1.0"/>
<rect x="162.80" y="448.90" width="14.70" height="12.40" rx="0" fill="none" stroke="#2a5d93" stroke-width="1.0"/>
<line x1="162.80" y1="456.00" x2="177.50" y2="456.00" stroke="#2a5d93" stroke-width="1.0"/>
<circle cx="170.40" cy="441.40" r="1.6" fill="#142f53" stroke="none" stroke-width="0"/>
<circle cx="170.40" cy="448.90" r="1.6" fill="#142f53" stroke="none" stroke-width="0"/>
<circle cx="163.70" cy="455.10" r="1.6" fill="#142f53" stroke="none" stroke-width="0"/>
<circle cx="170.40" cy="455.10" r="1.6" fill="#142f53" stroke="none" stroke-width="0"/>
<circle cx="176.40" cy="455.10" r="1.6" fill="#142f53" stroke="none" stroke-width="0"/>
<circle cx="163.70" cy="462.20" r="1.6" fill="#142f53" stroke="none" stroke-width="0"/>
<circle cx="170.80" cy="458.70" r="1.6" fill="#142f53" stroke="none" stroke-width="0"/>
<circle cx="176.10" cy="458.70" r="1.6" fill="#142f53" stroke="none" stroke-width="0"/>
<line x1="43.60" y1="371.90" x2="43.60" y2="468.47" stroke="#2e2e2e" stroke-width="1.15"/>
<line x1="41.10" y1="373.40" x2="43.60" y2="373.40" stroke="#2e2e2e" stroke-width="1.15"/>
<text x="36.90" y="376.05" font-size="7.4" fill="#333333" stroke="#333333" stroke-width="0.12" text-anchor="end" textLength="17.12" lengthAdjust="spacingAndGlyphs">1000</text>
<line x1="41.10" y1="392.30" x2="43.60" y2="392.30" stroke="#2e2e2e" stroke-width="1.15"/>
<text x="36.90" y="394.95" font-size="7.4" fill="#333333" stroke="#333333" stroke-width="0.12" text-anchor="end" textLength="12.84" lengthAdjust="spacingAndGlyphs">800</text>
<line x1="41.10" y1="411.20" x2="43.60" y2="411.20" stroke="#2e2e2e" stroke-width="1.15"/>
<text x="36.90" y="413.85" font-size="7.4" fill="#333333" stroke="#333333" stroke-width="0.12" text-anchor="end" textLength="12.84" lengthAdjust="spacingAndGlyphs">600</text>
<line x1="41.10" y1="430.10" x2="43.60" y2="430.10" stroke="#2e2e2e" stroke-width="1.15"/>
<text x="36.90" y="432.75" font-size="7.4" fill="#333333" stroke="#333333" stroke-width="0.12" text-anchor="end" textLength="12.84" lengthAdjust="spacingAndGlyphs">400</text>
<line x1="41.10" y1="449.00" x2="43.60" y2="449.00" stroke="#2e2e2e" stroke-width="1.15"/>
<text x="36.90" y="451.65" font-size="7.4" fill="#333333" stroke="#333333" stroke-width="0.12" text-anchor="end" textLength="12.84" lengthAdjust="spacingAndGlyphs">200</text>
<line x1="41.10" y1="467.90" x2="43.60" y2="467.90" stroke="#2e2e2e" stroke-width="1.15"/>
<text x="36.90" y="470.55" font-size="7.4" fill="#333333" stroke="#333333" stroke-width="0.12" text-anchor="end" textLength="4.28" lengthAdjust="spacingAndGlyphs">0</text>
<line x1="43.02" y1="467.90" x2="185.50" y2="467.90" stroke="#2e2e2e" stroke-width="1.15"/>
<line x1="58.10" y1="467.90" x2="58.10" y2="470.40" stroke="#2e2e2e" stroke-width="1.15"/>
<text x="58.10" y="481.22" font-size="7.6" fill="#333333" stroke="#333333" stroke-width="0.12" text-anchor="middle" textLength="11.82" lengthAdjust="spacingAndGlyphs">WT</text>
<line x1="80.90" y1="467.90" x2="80.90" y2="470.40" stroke="#2e2e2e" stroke-width="1.15"/>
<text x="80.90" y="481.22" font-size="7.6" fill="#333333" stroke="#333333" stroke-width="0.12" text-anchor="middle" textLength="14.36" lengthAdjust="spacingAndGlyphs">TCL</text>
<line x1="103.10" y1="467.90" x2="103.10" y2="470.40" stroke="#2e2e2e" stroke-width="1.15"/>
<text x="103.10" y="481.22" font-size="7.6" fill="#333333" stroke="#333333" stroke-width="0.12" text-anchor="middle" textLength="14.78" lengthAdjust="spacingAndGlyphs">BCL</text>
<line x1="125.40" y1="467.90" x2="125.40" y2="470.40" stroke="#2e2e2e" stroke-width="1.15"/>
<text x="125.40" y="481.22" font-size="7.6" fill="#333333" stroke="#333333" stroke-width="0.12" text-anchor="middle" textLength="11.82" lengthAdjust="spacingAndGlyphs">WT</text>
<line x1="147.70" y1="467.90" x2="147.70" y2="470.40" stroke="#2e2e2e" stroke-width="1.15"/>
<text x="147.70" y="481.22" font-size="7.6" fill="#333333" stroke="#333333" stroke-width="0.12" text-anchor="middle" textLength="14.36" lengthAdjust="spacingAndGlyphs">TCL</text>
<line x1="170.20" y1="467.90" x2="170.20" y2="470.40" stroke="#2e2e2e" stroke-width="1.15"/>
<text x="170.20" y="481.22" font-size="7.6" fill="#333333" stroke="#333333" stroke-width="0.12" text-anchor="middle" textLength="14.78" lengthAdjust="spacingAndGlyphs">BCL</text>
<text x="0" y="3.22" font-size="9" fill="#333333" stroke="#333333" stroke-width="0.12" text-anchor="middle" textLength="44.00" lengthAdjust="spacingAndGlyphs" transform="translate(9.55 419.10) rotate(-90)">Weight (mg)</text>
<text x="191.70" y="353.07" font-size="11" font-weight="bold" fill="#111" stroke="#111" stroke-width="0.15" textLength="7.20" lengthAdjust="spacingAndGlyphs">F</text>
<line x1="260.00" y1="381.70" x2="260.00" y2="383.80" stroke="#c3294a" stroke-width="1.0"/>
<line x1="256.80" y1="381.70" x2="263.20" y2="381.70" stroke="#c3294a" stroke-width="1.0"/>
<line x1="260.00" y1="432.30" x2="260.00" y2="450.60" stroke="#c3294a" stroke-width="1.0"/>
<line x1="256.80" y1="450.60" x2="263.20" y2="450.60" stroke="#c3294a" stroke-width="1.0"/>
<rect x="252.40" y="383.80" width="15.20" height="48.50" rx="0" fill="none" stroke="#c3294a" stroke-width="1.0"/>
<line x1="252.40" y1="394.10" x2="267.60" y2="394.10" stroke="#c3294a" stroke-width="1.0"/>
<circle cx="255.10" cy="381.70" r="2.1" fill="#a80d2e" stroke="none" stroke-width="0"/>
<circle cx="265.20" cy="382.20" r="2.1" fill="#a80d2e" stroke="none" stroke-width="0"/>
<circle cx="259.90" cy="385.60" r="2.1" fill="#a80d2e" stroke="none" stroke-width="0"/>
<circle cx="265.80" cy="390.90" r="2.1" fill="#a80d2e" stroke="none" stroke-width="0"/>
<circle cx="259.90" cy="394.50" r="2.1" fill="#a80d2e" stroke="none" stroke-width="0"/>
<circle cx="259.90" cy="405.30" r="2.1" fill="#a80d2e" stroke="none" stroke-width="0"/>
<circle cx="259.90" cy="427.00" r="2.1" fill="#a80d2e" stroke="none" stroke-width="0"/>
<circle cx="259.90" cy="438.20" r="2.1" fill="#a80d2e" stroke="none" stroke-width="0"/>
<circle cx="259.90" cy="450.60" r="2.1" fill="#a80d2e" stroke="none" stroke-width="0"/>
<line x1="282.95" y1="378.10" x2="282.95" y2="381.70" stroke="#c3294a" stroke-width="1.0"/>
<line x1="279.75" y1="378.10" x2="286.15" y2="378.10" stroke="#c3294a" stroke-width="1.0"/>
<line x1="282.95" y1="459.00" x2="282.95" y2="465.20" stroke="#c3294a" stroke-width="1.0"/>
<line x1="279.75" y1="465.20" x2="286.15" y2="465.20" stroke="#c3294a" stroke-width="1.0"/>
<rect x="275.20" y="381.70" width="15.50" height="77.30" rx="0" fill="none" stroke="#c3294a" stroke-width="1.0"/>
<line x1="275.20" y1="387.90" x2="290.70" y2="387.90" stroke="#c3294a" stroke-width="1.0"/>
<circle cx="277.30" cy="379.90" r="2.1" fill="#a80d2e" stroke="none" stroke-width="0"/>
<circle cx="282.70" cy="378.10" r="2.1" fill="#a80d2e" stroke="none" stroke-width="0"/>
<circle cx="288.00" cy="381.30" r="2.1" fill="#a80d2e" stroke="none" stroke-width="0"/>
<circle cx="282.70" cy="383.80" r="2.1" fill="#a80d2e" stroke="none" stroke-width="0"/>
<circle cx="282.70" cy="388.80" r="2.1" fill="#a80d2e" stroke="none" stroke-width="0"/>
<circle cx="277.30" cy="458.10" r="2.1" fill="#a80d2e" stroke="none" stroke-width="0"/>
<circle cx="288.00" cy="458.50" r="2.1" fill="#a80d2e" stroke="none" stroke-width="0"/>
<circle cx="282.70" cy="460.20" r="2.1" fill="#a80d2e" stroke="none" stroke-width="0"/>
<circle cx="282.70" cy="465.20" r="2.1" fill="#a80d2e" stroke="none" stroke-width="0"/>
<line x1="305.75" y1="383.10" x2="305.75" y2="386.10" stroke="#c3294a" stroke-width="1.0"/>
<line x1="302.55" y1="383.10" x2="308.95" y2="383.10" stroke="#c3294a" stroke-width="1.0"/>
<line x1="305.75" y1="414.20" x2="305.75" y2="417.20" stroke="#c3294a" stroke-width="1.0"/>
<line x1="302.55" y1="417.20" x2="308.95" y2="417.20" stroke="#c3294a" stroke-width="1.0"/>
<rect x="298.30" y="386.10" width="14.90" height="28.10" rx="0" fill="none" stroke="#c3294a" stroke-width="1.0"/>
<line x1="298.30" y1="403.00" x2="313.20" y2="403.00" stroke="#c3294a" stroke-width="1.0"/>
<circle cx="311.10" cy="383.10" r="2.1" fill="#a80d2e" stroke="none" stroke-width="0"/>
<circle cx="300.40" cy="387.00" r="2.1" fill="#a80d2e" stroke="none" stroke-width="0"/>
<circle cx="305.80" cy="400.90" r="2.1" fill="#a80d2e" stroke="none" stroke-width="0"/>
<circle cx="305.80" cy="405.70" r="2.1" fill="#a80d2e" stroke="none" stroke-width="0"/>
<circle cx="311.10" cy="413.70" r="2.1" fill="#a80d2e" stroke="none" stroke-width="0"/>
<circle cx="300.40" cy="417.60" r="2.1" fill="#a80d2e" stroke="none" stroke-width="0"/>
<line x1="328.85" y1="374.20" x2="328.85" y2="387.50" stroke="#c3294a" stroke-width="1.0"/>
<line x1="325.65" y1="374.20" x2="332.05" y2="374.20" stroke="#c3294a" stroke-width="1.0"/>
<line x1="328.85" y1="453.70" x2="328.85" y2="458.10" stroke="#c3294a" stroke-width="1.0"/>
<line x1="325.65" y1="458.10" x2="332.05" y2="458.10" stroke="#c3294a" stroke-width="1.0"/>
<rect x="321.30" y="387.50" width="15.10" height="66.20" rx="0" fill="none" stroke="#c3294a" stroke-width="1.0"/>
<line x1="321.30" y1="387.50" x2="336.40" y2="387.50" stroke="#c3294a" stroke-width="1.0"/>
<circle cx="328.40" cy="374.20" r="2.1" fill="#a80d2e" stroke="none" stroke-width="0"/>
<circle cx="323.10" cy="391.80" r="2.1" fill="#a80d2e" stroke="none" stroke-width="0"/>
<circle cx="328.40" cy="392.90" r="2.1" fill="#a80d2e" stroke="none" stroke-width="0"/>
<circle cx="334.10" cy="392.30" r="2.1" fill="#a80d2e" stroke="none" stroke-width="0"/>
<circle cx="328.40" cy="452.40" r="2.1" fill="#a80d2e" stroke="none" stroke-width="0"/>
<circle cx="328.40" cy="458.10" r="2.1" fill="#a80d2e" stroke="none" stroke-width="0"/>
<line x1="351.80" y1="375.40" x2="351.80" y2="403.40" stroke="#c3294a" stroke-width="1.0"/>
<line x1="348.60" y1="375.40" x2="355.00" y2="375.40" stroke="#c3294a" stroke-width="1.0"/>
<line x1="351.80" y1="461.30" x2="351.80" y2="466.10" stroke="#c3294a" stroke-width="1.0"/>
<line x1="348.60" y1="466.10" x2="355.00" y2="466.10" stroke="#c3294a" stroke-width="1.0"/>
<rect x="344.40" y="403.40" width="14.80" height="57.90" rx="0" fill="none" stroke="#c3294a" stroke-width="1.0"/>
<line x1="344.40" y1="447.40" x2="359.20" y2="447.40" stroke="#c3294a" stroke-width="1.0"/>
<circle cx="351.20" cy="375.40" r="2.1" fill="#a80d2e" stroke="none" stroke-width="0"/>
<circle cx="351.20" cy="393.20" r="2.1" fill="#a80d2e" stroke="none" stroke-width="0"/>
<circle cx="351.20" cy="413.70" r="2.1" fill="#a80d2e" stroke="none" stroke-width="0"/>
<circle cx="351.20" cy="438.60" r="2.1" fill="#a80d2e" stroke="none" stroke-width="0"/>
<circle cx="351.20" cy="447.10" r="2.1" fill="#a80d2e" stroke="none" stroke-width="0"/>
<circle cx="345.90" cy="457.80" r="2.1" fill="#a80d2e" stroke="none" stroke-width="0"/>
<circle cx="356.90" cy="456.00" r="2.1" fill="#a80d2e" stroke="none" stroke-width="0"/>
<circle cx="345.90" cy="466.10" r="2.1" fill="#a80d2e" stroke="none" stroke-width="0"/>
<circle cx="356.90" cy="466.10" r="2.1" fill="#a80d2e" stroke="none" stroke-width="0"/>
<line x1="244.70" y1="365.90" x2="244.70" y2="468.18" stroke="#2e2e2e" stroke-width="1.15"/>
<line x1="242.20" y1="367.60" x2="244.70" y2="367.60" stroke="#2e2e2e" stroke-width="1.15"/>
<text x="237.80" y="370.57" font-size="8.3" fill="#333333" stroke="#333333" stroke-width="0.12" text-anchor="end" textLength="12.74" lengthAdjust="spacingAndGlyphs">100</text>
<line x1="242.20" y1="392.60" x2="244.70" y2="392.60" stroke="#2e2e2e" stroke-width="1.15"/>
<text x="237.80" y="395.57" font-size="8.3" fill="#333333" stroke="#333333" stroke-width="0.12" text-anchor="end" textLength="8.49" lengthAdjust="spacingAndGlyphs">75</text>
<line x1="242.20" y1="417.60" x2="244.70" y2="417.60" stroke="#2e2e2e" stroke-width="1.15"/>
<text x="237.80" y="420.57" font-size="8.3" fill="#333333" stroke="#333333" stroke-width="0.12" text-anchor="end" textLength="8.49" lengthAdjust="spacingAndGlyphs">50</text>
<line x1="242.20" y1="442.60" x2="244.70" y2="442.60" stroke="#2e2e2e" stroke-width="1.15"/>
<text x="237.80" y="445.57" font-size="8.3" fill="#333333" stroke="#333333" stroke-width="0.12" text-anchor="end" textLength="8.49" lengthAdjust="spacingAndGlyphs">25</text>
<line x1="242.20" y1="467.60" x2="244.70" y2="467.60" stroke="#2e2e2e" stroke-width="1.15"/>
<text x="237.80" y="470.57" font-size="8.3" fill="#333333" stroke="#333333" stroke-width="0.12" text-anchor="end" textLength="4.25" lengthAdjust="spacingAndGlyphs">0</text>
<line x1="244.12" y1="467.60" x2="366.10" y2="467.60" stroke="#2e2e2e" stroke-width="1.15"/>
<line x1="259.90" y1="467.60" x2="259.90" y2="470.10" stroke="#2e2e2e" stroke-width="1.15"/>
<line x1="282.70" y1="467.60" x2="282.70" y2="470.10" stroke="#2e2e2e" stroke-width="1.15"/>
<line x1="305.40" y1="467.60" x2="305.40" y2="470.10" stroke="#2e2e2e" stroke-width="1.15"/>
<line x1="328.40" y1="467.60" x2="328.40" y2="470.10" stroke="#2e2e2e" stroke-width="1.15"/>
<line x1="351.20" y1="467.60" x2="351.20" y2="470.10" stroke="#2e2e2e" stroke-width="1.15"/>
<text x="0" y="0" font-size="8" fill="#333333" stroke="#333333" stroke-width="0.12" text-anchor="end" textLength="26.5" lengthAdjust="spacingAndGlyphs" transform="translate(261.80 477.40) rotate(-45)">Spleen</text>
<text x="0" y="0" font-size="8" fill="#333333" stroke="#333333" stroke-width="0.12" text-anchor="end" textLength="30.5" lengthAdjust="spacingAndGlyphs" transform="translate(284.60 477.40) rotate(-45)">Thymus</text>
<text x="0" y="0" font-size="8" fill="#333333" stroke="#333333" stroke-width="0.12" text-anchor="end" textLength="10.5" lengthAdjust="spacingAndGlyphs" transform="translate(307.30 477.40) rotate(-45)">LN</text>
<text x="0" y="0" font-size="8" fill="#333333" stroke="#333333" stroke-width="0.12" text-anchor="end" textLength="12.5" lengthAdjust="spacingAndGlyphs" transform="translate(330.30 477.40) rotate(-45)">BM</text>
<text x="0" y="0" font-size="8" fill="#333333" stroke="#333333" stroke-width="0.12" text-anchor="end" textLength="11" lengthAdjust="spacingAndGlyphs" transform="translate(353.10 477.40) rotate(-45)">PB</text>
<text x="0" y="3.22" font-size="9" fill="#333333" stroke="#333333" stroke-width="0.12" text-anchor="middle" textLength="52.70" lengthAdjust="spacingAndGlyphs" transform="translate(203.90 416.70) rotate(-90)">GFP infiltration</text>
<text x="0" y="3.22" font-size="9" fill="#333333" stroke="#333333" stroke-width="0.12" text-anchor="middle" textLength="78.00" lengthAdjust="spacingAndGlyphs" transform="translate(216.90 416.00) rotate(-90)">in different organs (%)</text>
<text x="373.10" y="353.07" font-size="11" font-weight="bold" fill="#111" stroke="#111" stroke-width="0.15" textLength="8.90" lengthAdjust="spacingAndGlyphs">G</text>
<line x1="461.20" y1="428.40" x2="461.20" y2="434.90" stroke="#3aaa3a" stroke-width="1.0"/>
<line x1="457.20" y1="434.90" x2="465.20" y2="434.90" stroke="#3aaa3a" stroke-width="1.0"/>
<rect x="449.80" y="415.30" width="22.80" height="13.10" rx="0" fill="none" stroke="#3aaa3a" stroke-width="1.0"/>
<line x1="449.80" y1="421.30" x2="472.60" y2="421.30" stroke="#3aaa3a" stroke-width="1.0"/>
<circle cx="455.80" cy="413.80" r="2.5" fill="#36a536" stroke="none" stroke-width="0"/>
<circle cx="466.60" cy="415.50" r="2.5" fill="#36a536" stroke="none" stroke-width="0"/>
<circle cx="455.80" cy="420.90" r="2.5" fill="#36a536" stroke="none" stroke-width="0"/>
<circle cx="466.60" cy="422.40" r="2.5" fill="#36a536" stroke="none" stroke-width="0"/>
<circle cx="461.20" cy="434.90" r="2.5" fill="#36a536" stroke="none" stroke-width="0"/>
<line x1="496.30" y1="362.20" x2="496.30" y2="390.60" stroke="#c3294a" stroke-width="1.0"/>
<line x1="492.30" y1="362.20" x2="500.30" y2="362.20" stroke="#c3294a" stroke-width="1.0"/>
<line x1="496.30" y1="448.20" x2="496.30" y2="457.90" stroke="#c3294a" stroke-width="1.0"/>
<line x1="492.30" y1="457.90" x2="500.30" y2="457.90" stroke="#c3294a" stroke-width="1.0"/>
<rect x="484.80" y="390.60" width="23.00" height="57.60" rx="0" fill="none" stroke="#c3294a" stroke-width="1.0"/>
<line x1="484.80" y1="441.80" x2="507.80" y2="441.80" stroke="#c3294a" stroke-width="1.0"/>
<circle cx="496.20" cy="362.20" r="2.5" fill="#a80d2e" stroke="none" stroke-width="0"/>
<circle cx="496.20" cy="399.20" r="2.5" fill="#a80d2e" stroke="none" stroke-width="0"/>
<circle cx="496.20" cy="439.20" r="2.5" fill="#a80d2e" stroke="none" stroke-width="0"/>
<circle cx="491.30" cy="444.40" r="2.5" fill="#a80d2e" stroke="none" stroke-width="0"/>
<circle cx="502.00" cy="445.40" r="2.5" fill="#a80d2e" stroke="none" stroke-width="0"/>
<circle cx="496.20" cy="457.90" r="2.5" fill="#a80d2e" stroke="none" stroke-width="0"/>
<line x1="438.20" y1="353.20" x2="438.20" y2="468.57" stroke="#2e2e2e" stroke-width="1.15"/>
<line x1="435.70" y1="354.70" x2="438.20" y2="354.70" stroke="#2e2e2e" stroke-width="1.15"/>
<text x="430.80" y="357.35" font-size="7.4" fill="#333333" stroke="#333333" stroke-width="0.12" text-anchor="end" textLength="21.40" lengthAdjust="spacingAndGlyphs">12500</text>
<line x1="435.70" y1="377.36" x2="438.20" y2="377.36" stroke="#2e2e2e" stroke-width="1.15"/>
<text x="430.80" y="380.01" font-size="7.4" fill="#333333" stroke="#333333" stroke-width="0.12" text-anchor="end" textLength="21.40" lengthAdjust="spacingAndGlyphs">10000</text>
<line x1="435.70" y1="400.02" x2="438.20" y2="400.02" stroke="#2e2e2e" stroke-width="1.15"/>
<text x="430.80" y="402.67" font-size="7.4" fill="#333333" stroke="#333333" stroke-width="0.12" text-anchor="end" textLength="17.12" lengthAdjust="spacingAndGlyphs">7500</text>
<line x1="435.70" y1="422.68" x2="438.20" y2="422.68" stroke="#2e2e2e" stroke-width="1.15"/>
<text x="430.80" y="425.33" font-size="7.4" fill="#333333" stroke="#333333" stroke-width="0.12" text-anchor="end" textLength="17.12" lengthAdjust="spacingAndGlyphs">5000</text>
<line x1="435.70" y1="445.34" x2="438.20" y2="445.34" stroke="#2e2e2e" stroke-width="1.15"/>
<text x="430.80" y="447.99" font-size="7.4" fill="#333333" stroke="#333333" stroke-width="0.12" text-anchor="end" textLength="17.12" lengthAdjust="spacingAndGlyphs">2500</text>
<line x1="435.70" y1="468.00" x2="438.20" y2="468.00" stroke="#2e2e2e" stroke-width="1.15"/>
<text x="430.80" y="470.65" font-size="7.4" fill="#333333" stroke="#333333" stroke-width="0.12" text-anchor="end" textLength="4.28" lengthAdjust="spacingAndGlyphs">0</text>
<line x1="437.62" y1="468.00" x2="520.50" y2="468.00" stroke="#2e2e2e" stroke-width="1.15"/>
<line x1="461.20" y1="468.00" x2="461.20" y2="470.50" stroke="#2e2e2e" stroke-width="1.15"/>
<text x="461.20" y="482.12" font-size="7.6" fill="#333333" stroke="#333333" stroke-width="0.12" text-anchor="middle" textLength="11.82" lengthAdjust="spacingAndGlyphs">WT</text>
<line x1="496.20" y1="468.00" x2="496.20" y2="470.50" stroke="#2e2e2e" stroke-width="1.15"/>
<text x="496.20" y="482.12" font-size="7.6" fill="#333333" stroke="#333333" stroke-width="0.12" text-anchor="middle" textLength="14.36" lengthAdjust="spacingAndGlyphs">TCL</text>
<text x="0" y="3.22" font-size="9" fill="#333333" stroke="#333333" stroke-width="0.12" text-anchor="middle" textLength="78.70" lengthAdjust="spacingAndGlyphs" transform="translate(387.80 409.70) rotate(-90)">White blood cell count</text>
<text x="0" y="3.22" font-size="9" fill="#333333" stroke="#333333" stroke-width="0.12" text-anchor="middle" textLength="32.60" lengthAdjust="spacingAndGlyphs" transform="translate(399.00 410.00) rotate(-90)">(cells/µL)</text>
<text x="0.95" y="523.97" font-size="11" font-weight="bold" fill="#111" stroke="#111" stroke-width="0.15" textLength="7.30" lengthAdjust="spacingAndGlyphs">H</text>
<g filter="url(#blur2)">
<rect x="65.7" y="616.8" width="0.7" height="0.7" fill="#9aa3d2"/>
<rect x="78.0" y="612.6" width="0.7" height="0.7" fill="#8690c6"/>
<rect x="50.9" y="612.1" width="0.7" height="0.7" fill="#b4bbe0"/>
<rect x="77.3" y="611.0" width="0.7" height="0.7" fill="#9aa3d2"/>
<rect x="68.7" y="620.4" width="0.7" height="0.7" fill="#9aa3d2"/>
<rect x="70.1" y="609.2" width="0.7" height="0.7" fill="#b4bbe0"/>
<rect x="59.9" y="609.7" width="0.7" height="0.7" fill="#9aa3d2"/>
<rect x="60.0" y="612.7" width="0.7" height="0.7" fill="#b4bbe0"/>
<rect x="85.0" y="610.3" width="0.7" height="0.7" fill="#8690c6"/>
<rect x="58.2" y="620.0" width="0.7" height="0.7" fill="#a8afdc"/>
<rect x="62.0" y="625.6" width="0.7" height="0.7" fill="#b4bbe0"/>
<rect x="77.3" y="614.3" width="0.7" height="0.7" fill="#b4bbe0"/>
<rect x="60.1" y="621.2" width="0.7" height="0.7" fill="#9aa3d2"/>
<rect x="56.5" y="613.5" width="0.7" height="0.7" fill="#c9cdea"/>
<rect x="64.0" y="608.3" width="0.7" height="0.7" fill="#8690c6"/>
<rect x="48.1" y="622.9" width="0.7" height="0.7" fill="#8690c6"/>
<rect x="63.1" y="625.0" width="0.7" height="0.7" fill="#b4bbe0"/>
<rect x="74.6" y="613.0" width="0.7" height="0.7" fill="#c9cdea"/>
<rect x="78.3" y="602.1" width="0.7" height="0.7" fill="#8690c6"/>
<rect x="65.3" y="612.2" width="0.7" height="0.7" fill="#a8afdc"/>
<rect x="54.8" y="622.6" width="0.7" height="0.7" fill="#b4bbe0"/>
<rect x="76.6" y="607.1" width="0.7" height="0.7" fill="#9aa3d2"/>
<rect x="69.1" y="604.4" width="0.7" height="0.7" fill="#8690c6"/>
<rect x="63.5" y="619.3" width="0.7" height="0.7" fill="#c9cdea"/>
<rect x="59.3" y="612.6" width="0.7" height="0.7" fill="#9aa3d2"/>
<rect x="77.6" y="607.0" width="0.7" height="0.7" fill="#9aa3d2"/>
<rect x="81.0" y="611.8" width="0.7" height="0.7" fill="#a8afdc"/>
<rect x="84.7" y="606.4" width="0.7" height="0.7" fill="#8690c6"/>
<rect x="64.1" y="601.5" width="0.7" height="0.7" fill="#8690c6"/>
<rect x="77.9" y="610.2" width="0.7" height="0.7" fill="#b4bbe0"/>
<rect x="59.9" y="611.0" width="0.7" height="0.7" fill="#b4bbe0"/>
<rect x="68.5" y="609.4" width="0.7" height="0.7" fill="#b4bbe0"/>
<rect x="51.9" y="626.8" width="0.7" height="0.7" fill="#c9cdea"/>
<rect x="76.6" y="613.0" width="0.7" height="0.7" fill="#a8afdc"/>
<rect x="67.2" y="616.4" width="0.7" height="0.7" fill="#c9cdea"/>
<rect x="72.8" y="607.3" width="0.7" height="0.7" fill="#c9cdea"/>
<rect x="81.6" y="607.2" width="0.7" height="0.7" fill="#c9cdea"/>
<rect x="73.0" y="610.1" width="0.7" height="0.7" fill="#b4bbe0"/>
<rect x="75.7" y="617.5" width="0.7" height="0.7" fill="#9aa3d2"/>
<rect x="56.0" y="617.8" width="0.7" height="0.7" fill="#8690c6"/>
<rect x="67.0" y="616.6" width="0.7" height="0.7" fill="#a8afdc"/>
<rect x="60.1" y="621.5" width="0.7" height="0.7" fill="#b4bbe0"/>
<rect x="64.0" y="607.3" width="0.7" height="0.7" fill="#a8afdc"/>
<rect x="59.7" y="607.3" width="0.7" height="0.7" fill="#c9cdea"/>
<rect x="80.6" y="601.9" width="0.7" height="0.7" fill="#a8afdc"/>
<rect x="60.9" y="619.2" width="0.7" height="0.7" fill="#9aa3d2"/>
<rect x="59.0" y="616.7" width="0.7" height="0.7" fill="#b4bbe0"/>
<rect x="73.6" y="612.5" width="0.7" height="0.7" fill="#b4bbe0"/>
<rect x="77.4" y="614.8" width="0.7" height="0.7" fill="#9aa3d2"/>
<rect x="73.2" y="611.0" width="0.7" height="0.7" fill="#9aa3d2"/>
<rect x="79.8" y="605.9" width="0.7" height="0.7" fill="#9aa3d2"/>
<rect x="76.7" y="603.6" width="0.7" height="0.7" fill="#b4bbe0"/>
<rect x="53.1" y="606.5" width="0.7" height="0.7" fill="#a8afdc"/>
<rect x="65.0" y="616.3" width="0.7" height="0.7" fill="#c9cdea"/>
<rect x="78.1" y="608.9" width="0.7" height="0.7" fill="#c9cdea"/>
<rect x="66.1" y="616.7" width="0.7" height="0.7" fill="#8690c6"/>
<rect x="67.4" y="606.0" width="0.7" height="0.7" fill="#b4bbe0"/>
<rect x="61.9" y="614.5" width="0.7" height="0.7" fill="#a8afdc"/>
<rect x="59.1" y="623.2" width="0.7" height="0.7" fill="#9aa3d2"/>
<rect x="68.4" y="607.5" width="0.7" height="0.7" fill="#9aa3d2"/>
<rect x="65.7" y="609.1" width="0.7" height="0.7" fill="#8690c6"/>
<rect x="75.1" y="607.1" width="0.7" height="0.7" fill="#b4bbe0"/>
<rect x="52.7" y="616.1" width="0.7" height="0.7" fill="#8690c6"/>
<rect x="59.9" y="609.2" width="0.7" height="0.7" fill="#b4bbe0"/>
<rect x="73.7" y="600.0" width="0.7" height="0.7" fill="#b4bbe0"/>
<rect x="71.2" y="618.5" width="0.7" height="0.7" fill="#9aa3d2"/>
<rect x="83.9" y="606.4" width="0.7" height="0.7" fill="#c9cdea"/>
<rect x="67.2" y="622.6" width="0.7" height="0.7" fill="#8690c6"/>
<rect x="48.0" y="624.7" width="0.7" height="0.7" fill="#8690c6"/>
<rect x="76.2" y="608.2" width="0.7" height="0.7" fill="#b4bbe0"/>
<rect x="76.1" y="614.1" width="0.7" height="0.7" fill="#8690c6"/>
<rect x="71.6" y="619.9" width="0.7" height="0.7" fill="#a8afdc"/>
<rect x="73.5" y="604.9" width="0.7" height="0.7" fill="#8690c6"/>
<rect x="69.2" y="609.9" width="0.7" height="0.7" fill="#9aa3d2"/>
<rect x="81.3" y="602.3" width="0.7" height="0.7" fill="#b4bbe0"/>
<rect x="62.4" y="615.3" width="0.7" height="0.7" fill="#8690c6"/>
<rect x="86.6" y="614.0" width="0.7" height="0.7" fill="#c9cdea"/>
<rect x="53.6" y="620.3" width="0.7" height="0.7" fill="#9aa3d2"/>
<rect x="67.1" y="609.4" width="0.7" height="0.7" fill="#b4bbe0"/>
<rect x="79.9" y="610.0" width="0.7" height="0.7" fill="#c9cdea"/>
<rect x="69.8" y="608.9" width="0.7" height="0.7" fill="#a8afdc"/>
<rect x="81.1" y="607.0" width="0.7" height="0.7" fill="#8690c6"/>
<rect x="74.3" y="617.0" width="0.7" height="0.7" fill="#9aa3d2"/>
<rect x="91.8" y="605.8" width="0.7" height="0.7" fill="#9aa3d2"/>
<rect x="47.3" y="617.7" width="0.7" height="0.7" fill="#c9cdea"/>
<rect x="73.9" y="610.4" width="0.7" height="0.7" fill="#b4bbe0"/>
<rect x="74.1" y="611.4" width="0.7" height="0.7" fill="#a8afdc"/>
<rect x="68.7" y="620.8" width="0.7" height="0.7" fill="#8690c6"/>
<rect x="51.6" y="615.4" width="0.7" height="0.7" fill="#9aa3d2"/>
<rect x="75.1" y="607.2" width="0.7" height="0.7" fill="#c9cdea"/>
<rect x="59.4" y="606.2" width="0.7" height="0.7" fill="#a8afdc"/>
<rect x="50.3" y="625.7" width="0.7" height="0.7" fill="#a8afdc"/>
<rect x="71.5" y="614.2" width="0.7" height="0.7" fill="#a8afdc"/>
<rect x="77.6" y="610.2" width="0.7" height="0.7" fill="#b4bbe0"/>
<rect x="55.9" y="610.3" width="0.7" height="0.7" fill="#b4bbe0"/>
<rect x="72.8" y="617.3" width="0.7" height="0.7" fill="#9aa3d2"/>
<rect x="60.5" y="613.6" width="0.7" height="0.7" fill="#a8afdc"/>
<rect x="57.9" y="615.0" width="0.7" height="0.7" fill="#9aa3d2"/>
<rect x="70.3" y="610.6" width="0.7" height="0.7" fill="#b4bbe0"/>
<rect x="65.4" y="624.2" width="0.7" height="0.7" fill="#a8afdc"/>
<rect x="66.0" y="614.0" width="0.7" height="0.7" fill="#9aa3d2"/>
<rect x="56.4" y="619.9" width="0.7" height="0.7" fill="#a8afdc"/>
<rect x="63.3" y="611.9" width="0.7" height="0.7" fill="#8690c6"/>
<rect x="57.4" y="618.8" width="0.7" height="0.7" fill="#c9cdea"/>
<rect x="61.2" y="615.0" width="0.7" height="0.7" fill="#a8afdc"/>
<rect x="83.3" y="597.0" width="0.7" height="0.7" fill="#8690c6"/>
<rect x="84.8" y="600.7" width="0.7" height="0.7" fill="#b4bbe0"/>
<rect x="70.6" y="609.0" width="0.7" height="0.7" fill="#9aa3d2"/>
<rect x="61.9" y="618.4" width="0.7" height="0.7" fill="#b4bbe0"/>
<rect x="62.4" y="616.7" width="0.7" height="0.7" fill="#8690c6"/>
<rect x="72.1" y="598.4" width="0.7" height="0.7" fill="#b4bbe0"/>
<rect x="80.0" y="605.2" width="0.7" height="0.7" fill="#8690c6"/>
<rect x="79.6" y="618.7" width="0.7" height="0.7" fill="#c9cdea"/>
<rect x="72.2" y="626.3" width="0.7" height="0.7" fill="#c9cdea"/>
<rect x="72.0" y="608.9" width="0.7" height="0.7" fill="#b4bbe0"/>
<rect x="73.1" y="616.6" width="0.7" height="0.7" fill="#a8afdc"/>
<rect x="60.3" y="619.2" width="0.7" height="0.7" fill="#8690c6"/>
<rect x="62.0" y="624.0" width="0.7" height="0.7" fill="#9aa3d2"/>
<rect x="62.8" y="620.5" width="0.7" height="0.7" fill="#9aa3d2"/>
<rect x="59.9" y="620.7" width="0.7" height="0.7" fill="#8690c6"/>
<rect x="64.7" y="613.8" width="0.7" height="0.7" fill="#b4bbe0"/>
<rect x="72.2" y="610.8" width="0.7" height="0.7" fill="#8690c6"/>
<rect x="65.3" y="627.1" width="0.7" height="0.7" fill="#b4bbe0"/>
<rect x="67.4" y="616.3" width="0.7" height="0.7" fill="#c9cdea"/>
<rect x="75.9" y="602.4" width="0.7" height="0.7" fill="#8690c6"/>
<rect x="58.7" y="620.4" width="0.7" height="0.7" fill="#a8afdc"/>
<rect x="55.4" y="613.2" width="0.7" height="0.7" fill="#9aa3d2"/>
<rect x="65.1" y="624.8" width="0.7" height="0.7" fill="#b4bbe0"/>
<rect x="64.9" y="615.0" width="0.7" height="0.7" fill="#9aa3d2"/>
<rect x="57.3" y="608.3" width="0.7" height="0.7" fill="#9aa3d2"/>
<rect x="63.0" y="611.8" width="0.7" height="0.7" fill="#8690c6"/>
<rect x="74.4" y="605.3" width="0.7" height="0.7" fill="#8690c6"/>
<rect x="77.4" y="609.2" width="0.7" height="0.7" fill="#8690c6"/>
<rect x="66.1" y="612.2" width="0.7" height="0.7" fill="#b4bbe0"/>
<rect x="90.0" y="598.8" width="0.7" height="0.7" fill="#8690c6"/>
<rect x="73.7" y="612.1" width="0.7" height="0.7" fill="#8690c6"/>
<rect x="60.4" y="610.0" width="0.7" height="0.7" fill="#b4bbe0"/>
<rect x="65.4" y="620.8" width="0.7" height="0.7" fill="#b4bbe0"/>
<rect x="65.9" y="624.6" width="0.7" height="0.7" fill="#8690c6"/>
<rect x="69.7" y="612.5" width="0.7" height="0.7" fill="#a8afdc"/>
<rect x="62.5" y="613.5" width="0.7" height="0.7" fill="#c9cdea"/>
<rect x="68.3" y="619.5" width="0.7" height="0.7" fill="#c9cdea"/>
<rect x="61.7" y="608.5" width="0.7" height="0.7" fill="#c9cdea"/>
<rect x="75.6" y="609.1" width="0.7" height="0.7" fill="#b4bbe0"/>
<rect x="76.2" y="609.3" width="0.7" height="0.7" fill="#b4bbe0"/>
<rect x="61.1" y="618.5" width="0.7" height="0.7" fill="#9aa3d2"/>
<rect x="68.8" y="611.6" width="0.7" height="0.7" fill="#8690c6"/>
<rect x="65.2" y="614.7" width="0.7" height="0.7" fill="#c9cdea"/>
<rect x="77.2" y="602.8" width="0.7" height="0.7" fill="#8690c6"/>
<rect x="56.8" y="611.3" width="0.7" height="0.7" fill="#9aa3d2"/>
<rect x="62.9" y="615.5" width="0.7" height="0.7" fill="#c9cdea"/>
<rect x="76.6" y="609.9" width="0.7" height="0.7" fill="#8690c6"/>
<rect x="79.2" y="607.5" width="0.7" height="0.7" fill="#b4bbe0"/>
<rect x="86.2" y="609.1" width="0.7" height="0.7" fill="#b4bbe0"/>
<rect x="67.7" y="613.1" width="0.7" height="0.7" fill="#c9cdea"/>
<rect x="74.3" y="613.1" width="0.7" height="0.7" fill="#b4bbe0"/>
<rect x="68.2" y="623.5" width="0.7" height="0.7" fill="#9aa3d2"/>
<rect x="67.7" y="615.6" width="0.7" height="0.7" fill="#c9cdea"/>
<rect x="60.3" y="612.3" width="0.7" height="0.7" fill="#8690c6"/>
<rect x="65.8" y="617.8" width="0.7" height="0.7" fill="#a8afdc"/>
<rect x="85.0" y="603.6" width="0.7" height="0.7" fill="#b4bbe0"/>
<rect x="60.2" y="607.4" width="0.7" height="0.7" fill="#a8afdc"/>
<rect x="61.9" y="618.5" width="0.7" height="0.7" fill="#c9cdea"/>
<rect x="76.5" y="617.8" width="0.7" height="0.7" fill="#b4bbe0"/>
<rect x="84.5" y="610.2" width="0.7" height="0.7" fill="#a8afdc"/>
<rect x="57.8" y="609.2" width="0.7" height="0.7" fill="#a8afdc"/>
<rect x="75.0" y="616.1" width="0.7" height="0.7" fill="#a8afdc"/>
<rect x="53.0" y="613.4" width="0.7" height="0.7" fill="#9aa3d2"/>
<rect x="73.5" y="603.6" width="0.7" height="0.7" fill="#b4bbe0"/>
<rect x="70.3" y="612.9" width="0.7" height="0.7" fill="#8690c6"/>
<rect x="76.5" y="608.3" width="0.7" height="0.7" fill="#c9cdea"/>
<rect x="56.2" y="613.9" width="0.7" height="0.7" fill="#a8afdc"/>
<rect x="63.6" y="607.8" width="0.7" height="0.7" fill="#9aa3d2"/>
<rect x="64.7" y="614.6" width="0.7" height="0.7" fill="#a8afdc"/>
<rect x="71.2" y="610.0" width="0.7" height="0.7" fill="#a8afdc"/>
<rect x="81.5" y="612.1" width="0.7" height="0.7" fill="#8690c6"/>
<rect x="74.3" y="599.4" width="0.7" height="0.7" fill="#b4bbe0"/>
<rect x="67.2" y="608.9" width="0.7" height="0.7" fill="#c9cdea"/>
<rect x="59.2" y="616.2" width="0.7" height="0.7" fill="#c9cdea"/>
<rect x="74.3" y="607.9" width="0.7" height="0.7" fill="#9aa3d2"/>
<rect x="58.4" y="610.2" width="0.7" height="0.7" fill="#9aa3d2"/>
<rect x="61.5" y="611.9" width="0.7" height="0.7" fill="#8690c6"/>
<rect x="64.5" y="611.8" width="0.7" height="0.7" fill="#c9cdea"/>
<rect x="74.6" y="612.3" width="0.7" height="0.7" fill="#9aa3d2"/>
<rect x="63.2" y="605.8" width="0.7" height="0.7" fill="#8690c6"/>
<rect x="66.1" y="608.6" width="0.7" height="0.7" fill="#c9cdea"/>
<rect x="63.6" y="615.0" width="0.7" height="0.7" fill="#a8afdc"/>
<rect x="75.8" y="626.3" width="0.7" height="0.7" fill="#c9cdea"/>
<rect x="77.9" y="610.0" width="0.7" height="0.7" fill="#a8afdc"/>
<rect x="77.6" y="608.0" width="0.7" height="0.7" fill="#8690c6"/>
<rect x="52.8" y="627.2" width="0.7" height="0.7" fill="#b4bbe0"/>
<rect x="71.5" y="612.8" width="0.7" height="0.7" fill="#a8afdc"/>
<rect x="67.4" y="618.9" width="0.7" height="0.7" fill="#a8afdc"/>
<rect x="72.6" y="604.5" width="0.7" height="0.7" fill="#9aa3d2"/>
<rect x="66.1" y="609.2" width="0.7" height="0.7" fill="#c9cdea"/>
<rect x="63.8" y="616.5" width="0.7" height="0.7" fill="#c9cdea"/>
<rect x="64.2" y="608.4" width="0.7" height="0.7" fill="#b4bbe0"/>
<rect x="60.4" y="618.5" width="0.7" height="0.7" fill="#9aa3d2"/>
<rect x="68.3" y="612.4" width="0.7" height="0.7" fill="#8690c6"/>
<rect x="70.4" y="609.3" width="0.7" height="0.7" fill="#b4bbe0"/>
<rect x="63.5" y="601.4" width="0.7" height="0.7" fill="#8690c6"/>
<rect x="67.9" y="615.1" width="0.7" height="0.7" fill="#c9cdea"/>
<rect x="80.0" y="608.5" width="0.7" height="0.7" fill="#8690c6"/>
<rect x="81.5" y="603.3" width="0.7" height="0.7" fill="#9aa3d2"/>
<rect x="67.4" y="615.0" width="0.7" height="0.7" fill="#8690c6"/>
<rect x="64.6" y="611.4" width="0.7" height="0.7" fill="#8690c6"/>
<rect x="60.8" y="617.5" width="0.7" height="0.7" fill="#8690c6"/>
<rect x="70.1" y="605.7" width="0.7" height="0.7" fill="#9aa3d2"/>
<rect x="72.8" y="603.0" width="0.7" height="0.7" fill="#a8afdc"/>
<rect x="54.3" y="614.7" width="0.7" height="0.7" fill="#9aa3d2"/>
<rect x="76.5" y="607.2" width="0.7" height="0.7" fill="#a8afdc"/>
<rect x="68.2" y="603.8" width="0.7" height="0.7" fill="#8690c6"/>
<rect x="48.2" y="621.1" width="0.7" height="0.7" fill="#a8afdc"/>
<rect x="75.1" y="615.3" width="0.7" height="0.7" fill="#8690c6"/>
<rect x="66.6" y="618.0" width="0.7" height="0.7" fill="#8690c6"/>
<rect x="62.5" y="617.3" width="0.7" height="0.7" fill="#c9cdea"/>
<rect x="59.6" y="613.6" width="0.7" height="0.7" fill="#b4bbe0"/>
<rect x="65.8" y="611.7" width="0.7" height="0.7" fill="#a8afdc"/>
<rect x="76.8" y="605.6" width="0.7" height="0.7" fill="#b4bbe0"/>
<rect x="60.3" y="617.2" width="0.7" height="0.7" fill="#c9cdea"/>
<rect x="57.8" y="619.9" width="0.7" height="0.7" fill="#b4bbe0"/>
<rect x="74.9" y="613.4" width="0.7" height="0.7" fill="#9aa3d2"/>
<rect x="64.4" y="619.5" width="0.7" height="0.7" fill="#a8afdc"/>
<rect x="68.5" y="613.8" width="0.7" height="0.7" fill="#c9cdea"/>
<rect x="57.0" y="623.6" width="0.7" height="0.7" fill="#b4bbe0"/>
<rect x="62.2" y="618.8" width="0.7" height="0.7" fill="#9aa3d2"/>
<rect x="56.2" y="617.1" width="0.7" height="0.7" fill="#8690c6"/>
<rect x="75.5" y="615.4" width="0.7" height="0.7" fill="#b4bbe0"/>
<rect x="84.0" y="614.4" width="0.7" height="0.7" fill="#c9cdea"/>
<rect x="60.1" y="619.6" width="0.7" height="0.7" fill="#8690c6"/>
<rect x="78.6" y="598.8" width="0.7" height="0.7" fill="#9aa3d2"/>
<rect x="74.6" y="615.1" width="0.7" height="0.7" fill="#c9cdea"/>
<rect x="78.2" y="607.7" width="0.7" height="0.7" fill="#9aa3d2"/>
<rect x="52.0" y="627.4" width="0.7" height="0.7" fill="#a8afdc"/>
<rect x="82.8" y="594.4" width="0.7" height="0.7" fill="#b4bbe0"/>
<rect x="69.3" y="608.0" width="0.7" height="0.7" fill="#b4bbe0"/>
<rect x="54.5" y="616.3" width="0.7" height="0.7" fill="#c9cdea"/>
<rect x="81.4" y="613.5" width="0.7" height="0.7" fill="#9aa3d2"/>
<rect x="69.3" y="607.9" width="0.7" height="0.7" fill="#9aa3d2"/>
<rect x="63.3" y="610.3" width="0.7" height="0.7" fill="#b4bbe0"/>
<rect x="60.3" y="610.1" width="0.7" height="0.7" fill="#c9cdea"/>
<rect x="66.6" y="610.4" width="0.7" height="0.7" fill="#9aa3d2"/>
<rect x="61.3" y="629.3" width="0.7" height="0.7" fill="#b4bbe0"/>
<rect x="63.1" y="617.4" width="0.7" height="0.7" fill="#a8afdc"/>
<rect x="79.2" y="608.9" width="0.7" height="0.7" fill="#c9cdea"/>
<rect x="66.6" y="618.6" width="0.7" height="0.7" fill="#b4bbe0"/>
<rect x="61.5" y="615.8" width="0.7" height="0.7" fill="#b4bbe0"/>
<rect x="77.1" y="610.7" width="0.7" height="0.7" fill="#8690c6"/>
<rect x="73.6" y="612.2" width="0.7" height="0.7" fill="#c9cdea"/>
<rect x="73.6" y="613.0" width="0.7" height="0.7" fill="#c9cdea"/>
<rect x="73.8" y="608.7" width="0.7" height="0.7" fill="#9aa3d2"/>
<rect x="63.2" y="605.2" width="0.7" height="0.7" fill="#8690c6"/>
<rect x="65.5" y="609.9" width="0.7" height="0.7" fill="#8690c6"/>
<rect x="67.3" y="605.7" width="0.7" height="0.7" fill="#b4bbe0"/>
<rect x="62.0" y="615.1" width="0.7" height="0.7" fill="#b4bbe0"/>
<rect x="68.8" y="616.9" width="0.7" height="0.7" fill="#8690c6"/>
<rect x="77.7" y="614.8" width="0.7" height="0.7" fill="#a8afdc"/>
<rect x="70.5" y="616.0" width="0.7" height="0.7" fill="#c9cdea"/>
<rect x="70.6" y="610.8" width="0.7" height="0.7" fill="#a8afdc"/>
<rect x="73.5" y="615.8" width="0.7" height="0.7" fill="#b4bbe0"/>
<rect x="80.0" y="609.8" width="0.7" height="0.7" fill="#c9cdea"/>
<rect x="71.0" y="612.4" width="0.7" height="0.7" fill="#c9cdea"/>
<rect x="54.5" y="620.6" width="0.7" height="0.7" fill="#8690c6"/>
<rect x="64.6" y="592.6" width="0.7" height="0.7" fill="#b4bbe0"/>
<rect x="65.2" y="617.3" width="0.7" height="0.7" fill="#a8afdc"/>
<rect x="67.9" y="611.2" width="0.7" height="0.7" fill="#c9cdea"/>
<rect x="81.9" y="592.7" width="0.7" height="0.7" fill="#c9cdea"/>
<rect x="68.3" y="613.1" width="0.7" height="0.7" fill="#8690c6"/>
<rect x="76.2" y="613.0" width="0.7" height="0.7" fill="#9aa3d2"/>
<rect x="53.9" y="613.9" width="0.7" height="0.7" fill="#c9cdea"/>
<rect x="57.6" y="625.5" width="0.7" height="0.7" fill="#c9cdea"/>
<rect x="80.0" y="613.6" width="0.7" height="0.7" fill="#b4bbe0"/>
<rect x="53.9" y="627.8" width="0.7" height="0.7" fill="#b4bbe0"/>
<rect x="61.5" y="624.2" width="0.7" height="0.7" fill="#c9cdea"/>
<rect x="77.1" y="610.8" width="0.7" height="0.7" fill="#c9cdea"/>
<rect x="70.3" y="612.4" width="0.7" height="0.7" fill="#9aa3d2"/>
<rect x="69.1" y="610.3" width="0.7" height="0.7" fill="#b4bbe0"/>
<rect x="67.7" y="599.7" width="0.7" height="0.7" fill="#8690c6"/>
<rect x="62.7" y="618.9" width="0.7" height="0.7" fill="#a8afdc"/>
<rect x="82.4" y="610.5" width="0.7" height="0.7" fill="#8690c6"/>
<rect x="74.7" y="608.0" width="0.7" height="0.7" fill="#a8afdc"/>
<rect x="79.0" y="604.5" width="0.7" height="0.7" fill="#9aa3d2"/>
<rect x="74.5" y="611.2" width="0.7" height="0.7" fill="#c9cdea"/>
<rect x="65.8" y="606.8" width="0.7" height="0.7" fill="#c9cdea"/>
<rect x="72.9" y="597.8" width="0.7" height="0.7" fill="#c9cdea"/>
<rect x="75.1" y="615.7" width="0.7" height="0.7" fill="#9aa3d2"/>
<rect x="72.8" y="601.5" width="0.7" height="0.7" fill="#b4bbe0"/>
<rect x="61.7" y="611.6" width="0.7" height="0.7" fill="#8690c6"/>
<rect x="52.7" y="620.9" width="0.7" height="0.7" fill="#a8afdc"/>
<rect x="73.2" y="612.9" width="0.7" height="0.7" fill="#b4bbe0"/>
<rect x="68.1" y="615.0" width="0.7" height="0.7" fill="#9aa3d2"/>
<rect x="56.8" y="617.7" width="0.7" height="0.7" fill="#b4bbe0"/>
<rect x="86.5" y="604.6" width="0.7" height="0.7" fill="#9aa3d2"/>
<rect x="67.6" y="615.5" width="0.7" height="0.7" fill="#9aa3d2"/>
<rect x="44.4" y="630.0" width="0.7" height="0.7" fill="#c9cdea"/>
<rect x="70.2" y="614.9" width="0.7" height="0.7" fill="#c9cdea"/>
<rect x="58.2" y="609.9" width="0.7" height="0.7" fill="#a8afdc"/>
<rect x="75.6" y="602.6" width="0.7" height="0.7" fill="#9aa3d2"/>
<rect x="69.4" y="607.2" width="0.7" height="0.7" fill="#8690c6"/>
<rect x="60.1" y="613.2" width="0.7" height="0.7" fill="#8690c6"/>
<rect x="70.1" y="616.5" width="0.7" height="0.7" fill="#b4bbe0"/>
<rect x="68.7" y="617.6" width="0.7" height="0.7" fill="#a8afdc"/>
<rect x="69.2" y="614.5" width="0.7" height="0.7" fill="#8690c6"/>
<rect x="78.7" y="608.6" width="0.7" height="0.7" fill="#b4bbe0"/>
<rect x="65.6" y="611.4" width="0.7" height="0.7" fill="#c9cdea"/>
<rect x="72.2" y="611.2" width="0.7" height="0.7" fill="#c9cdea"/>
<rect x="72.8" y="608.1" width="0.7" height="0.7" fill="#c9cdea"/>
<rect x="70.2" y="611.1" width="0.7" height="0.7" fill="#8690c6"/>
<rect x="68.3" y="614.7" width="0.7" height="0.7" fill="#a8afdc"/>
<rect x="79.7" y="607.2" width="0.7" height="0.7" fill="#9aa3d2"/>
<rect x="55.5" y="626.2" width="0.7" height="0.7" fill="#c9cdea"/>
<rect x="55.6" y="610.7" width="0.7" height="0.7" fill="#9aa3d2"/>
<rect x="77.5" y="614.6" width="0.7" height="0.7" fill="#a8afdc"/>
<rect x="66.5" y="614.7" width="0.7" height="0.7" fill="#8690c6"/>
<rect x="71.8" y="614.7" width="0.7" height="0.7" fill="#8690c6"/>
<rect x="82.2" y="610.1" width="0.7" height="0.7" fill="#b4bbe0"/>
<rect x="74.6" y="599.9" width="0.7" height="0.7" fill="#c9cdea"/>
<rect x="65.5" y="610.1" width="0.7" height="0.7" fill="#8690c6"/>
<rect x="70.0" y="612.8" width="0.7" height="0.7" fill="#c9cdea"/>
<rect x="64.9" y="613.2" width="0.7" height="0.7" fill="#9aa3d2"/>
<rect x="71.8" y="602.7" width="0.7" height="0.7" fill="#b4bbe0"/>
<rect x="65.5" y="611.6" width="0.7" height="0.7" fill="#b4bbe0"/>
<rect x="62.3" y="617.8" width="0.7" height="0.7" fill="#8690c6"/>
<rect x="63.4" y="608.8" width="0.7" height="0.7" fill="#9aa3d2"/>
<rect x="63.6" y="621.8" width="0.7" height="0.7" fill="#8690c6"/>
<rect x="66.5" y="613.9" width="0.7" height="0.7" fill="#8690c6"/>
<rect x="62.5" y="609.9" width="0.7" height="0.7" fill="#c9cdea"/>
<rect x="68.3" y="613.3" width="0.7" height="0.7" fill="#b4bbe0"/>
<rect x="53.2" y="623.4" width="0.7" height="0.7" fill="#c9cdea"/>
<rect x="60.4" y="612.7" width="0.7" height="0.7" fill="#b4bbe0"/>
<rect x="70.0" y="613.6" width="0.7" height="0.7" fill="#b4bbe0"/>
<rect x="55.5" y="606.7" width="0.7" height="0.7" fill="#9aa3d2"/>
<rect x="49.5" y="613.1" width="0.7" height="0.7" fill="#a8afdc"/>
<rect x="71.9" y="616.5" width="0.7" height="0.7" fill="#b4bbe0"/>
<rect x="47.7" y="618.2" width="0.7" height="0.7" fill="#9aa3d2"/>
<rect x="56.8" y="623.7" width="0.7" height="0.7" fill="#b4bbe0"/>
<rect x="62.5" y="625.9" width="0.7" height="0.7" fill="#9aa3d2"/>
<rect x="78.2" y="608.1" width="0.7" height="0.7" fill="#9aa3d2"/>
<rect x="58.0" y="610.8" width="0.7" height="0.7" fill="#9aa3d2"/>
<rect x="78.3" y="604.2" width="0.7" height="0.7" fill="#b4bbe0"/>
<rect x="56.7" y="607.4" width="0.7" height="0.7" fill="#a8afdc"/>
<rect x="53.6" y="624.7" width="0.7" height="0.7" fill="#c9cdea"/>
<rect x="70.6" y="615.9" width="0.7" height="0.7" fill="#c9cdea"/>
<rect x="72.9" y="609.7" width="0.7" height="0.7" fill="#8690c6"/>
<rect x="72.9" y="614.3" width="0.7" height="0.7" fill="#b4bbe0"/>
<rect x="79.2" y="610.9" width="0.7" height="0.7" fill="#9aa3d2"/>
<rect x="64.1" y="609.4" width="0.7" height="0.7" fill="#c9cdea"/>
<rect x="58.8" y="611.5" width="0.7" height="0.7" fill="#8690c6"/>
<rect x="63.4" y="610.1" width="0.7" height="0.7" fill="#b4bbe0"/>
<rect x="56.2" y="621.1" width="0.7" height="0.7" fill="#c9cdea"/>
<rect x="62.4" y="614.7" width="0.7" height="0.7" fill="#9aa3d2"/>
<rect x="60.3" y="610.6" width="0.7" height="0.7" fill="#b4bbe0"/>
<rect x="56.2" y="619.8" width="0.7" height="0.7" fill="#c9cdea"/>
<rect x="76.5" y="600.1" width="0.7" height="0.7" fill="#c9cdea"/>
<rect x="71.7" y="613.5" width="0.7" height="0.7" fill="#c9cdea"/>
<rect x="57.3" y="625.0" width="0.7" height="0.7" fill="#a8afdc"/>
<rect x="65.4" y="613.6" width="0.7" height="0.7" fill="#b4bbe0"/>
<rect x="80.7" y="613.3" width="0.7" height="0.7" fill="#a8afdc"/>
<rect x="81.2" y="613.1" width="0.7" height="0.7" fill="#c9cdea"/>
<rect x="59.0" y="607.1" width="0.7" height="0.7" fill="#9aa3d2"/>
<rect x="86.7" y="590.0" width="0.7" height="0.7" fill="#9aa3d2"/>
<rect x="76.8" y="626.1" width="0.7" height="0.7" fill="#c9cdea"/>
<rect x="64.1" y="625.2" width="0.7" height="0.7" fill="#b4bbe0"/>
<rect x="62.4" y="605.7" width="0.7" height="0.7" fill="#b4bbe0"/>
<rect x="75.7" y="612.4" width="0.7" height="0.7" fill="#8690c6"/>
<rect x="78.4" y="620.2" width="0.7" height="0.7" fill="#8690c6"/>
<rect x="76.2" y="606.0" width="0.7" height="0.7" fill="#8690c6"/>
<rect x="47.8" y="619.8" width="0.7" height="0.7" fill="#b4bbe0"/>
<rect x="57.6" y="611.8" width="0.7" height="0.7" fill="#b4bbe0"/>
<rect x="67.0" y="614.7" width="0.7" height="0.7" fill="#b4bbe0"/>
<rect x="57.5" y="621.6" width="0.7" height="0.7" fill="#8690c6"/>
<rect x="59.8" y="603.8" width="0.7" height="0.7" fill="#b4bbe0"/>
<rect x="69.8" y="607.5" width="0.7" height="0.7" fill="#a8afdc"/>
<rect x="85.0" y="610.4" width="0.7" height="0.7" fill="#c9cdea"/>
<rect x="56.8" y="614.0" width="0.7" height="0.7" fill="#9aa3d2"/>
<rect x="67.9" y="620.5" width="0.7" height="0.7" fill="#c9cdea"/>
<rect x="67.3" y="607.1" width="0.7" height="0.7" fill="#c9cdea"/>
<rect x="79.8" y="608.1" width="0.7" height="0.7" fill="#8690c6"/>
<rect x="66.2" y="615.7" width="0.7" height="0.7" fill="#b4bbe0"/>
<rect x="74.6" y="619.6" width="0.7" height="0.7" fill="#9aa3d2"/>
<rect x="64.9" y="621.1" width="0.7" height="0.7" fill="#8690c6"/>
<rect x="51.4" y="605.0" width="0.7" height="0.7" fill="#a8afdc"/>
<rect x="85.2" y="600.9" width="0.7" height="0.7" fill="#9aa3d2"/>
<rect x="67.9" y="608.5" width="0.7" height="0.7" fill="#8690c6"/>
<rect x="60.9" y="610.9" width="0.7" height="0.7" fill="#a8afdc"/>
<rect x="66.1" y="614.9" width="0.7" height="0.7" fill="#c9cdea"/>
<rect x="69.9" y="621.1" width="0.7" height="0.7" fill="#9aa3d2"/>
<rect x="79.0" y="611.6" width="0.7" height="0.7" fill="#8690c6"/>
<rect x="74.6" y="614.1" width="0.7" height="0.7" fill="#b4bbe0"/>
<rect x="61.5" y="617.8" width="0.7" height="0.7" fill="#b4bbe0"/>
<rect x="71.6" y="619.8" width="0.7" height="0.7" fill="#c9cdea"/>
<rect x="68.8" y="613.4" width="0.7" height="0.7" fill="#b4bbe0"/>
<rect x="65.4" y="607.2" width="0.7" height="0.7" fill="#9aa3d2"/>
<rect x="56.2" y="607.4" width="0.7" height="0.7" fill="#8690c6"/>
<rect x="62.2" y="617.7" width="0.7" height="0.7" fill="#9aa3d2"/>
<rect x="83.7" y="611.2" width="0.7" height="0.7" fill="#8690c6"/>
<rect x="58.2" y="611.7" width="0.7" height="0.7" fill="#a8afdc"/>
<rect x="81.5" y="604.1" width="0.7" height="0.7" fill="#b4bbe0"/>
<rect x="68.1" y="612.9" width="0.7" height="0.7" fill="#9aa3d2"/>
<rect x="59.0" y="614.8" width="0.7" height="0.7" fill="#b4bbe0"/>
<rect x="78.7" y="620.5" width="0.7" height="0.7" fill="#9aa3d2"/>
<rect x="79.4" y="609.4" width="0.7" height="0.7" fill="#b4bbe0"/>
<rect x="71.8" y="614.7" width="0.7" height="0.7" fill="#a8afdc"/>
<rect x="59.9" y="608.7" width="0.7" height="0.7" fill="#c9cdea"/>
<rect x="70.2" y="608.5" width="0.7" height="0.7" fill="#8690c6"/>
<rect x="79.6" y="612.1" width="0.7" height="0.7" fill="#c9cdea"/>
<rect x="67.8" y="612.2" width="0.7" height="0.7" fill="#c9cdea"/>
<rect x="67.7" y="606.0" width="0.7" height="0.7" fill="#c9cdea"/>
<rect x="81.7" y="626.6" width="0.7" height="0.7" fill="#8690c6"/>
<rect x="68.3" y="614.4" width="0.7" height="0.7" fill="#8690c6"/>
<rect x="83.9" y="598.2" width="0.7" height="0.7" fill="#8690c6"/>
<rect x="66.3" y="608.7" width="0.7" height="0.7" fill="#a8afdc"/>
<rect x="62.1" y="606.4" width="0.7" height="0.7" fill="#a8afdc"/>
<rect x="75.4" y="609.3" width="0.7" height="0.7" fill="#b4bbe0"/>
<rect x="77.2" y="613.3" width="0.7" height="0.7" fill="#b4bbe0"/>
<rect x="67.6" y="617.5" width="0.7" height="0.7" fill="#b4bbe0"/>
<rect x="82.0" y="604.3" width="0.7" height="0.7" fill="#8690c6"/>
<rect x="71.2" y="617.4" width="0.7" height="0.7" fill="#a8afdc"/>
<rect x="69.3" y="625.8" width="0.7" height="0.7" fill="#a8afdc"/>
<rect x="51.1" y="621.1" width="0.7" height="0.7" fill="#9aa3d2"/>
<rect x="74.0" y="605.5" width="0.7" height="0.7" fill="#b4bbe0"/>
<rect x="61.0" y="613.0" width="0.7" height="0.7" fill="#b4bbe0"/>
<rect x="58.7" y="621.3" width="0.7" height="0.7" fill="#a8afdc"/>
<rect x="72.3" y="609.4" width="0.7" height="0.7" fill="#9aa3d2"/>
<rect x="77.6" y="615.0" width="0.7" height="0.7" fill="#b4bbe0"/>
<rect x="65.2" y="616.6" width="0.7" height="0.7" fill="#9aa3d2"/>
<rect x="72.8" y="611.7" width="0.7" height="0.7" fill="#9aa3d2"/>
<rect x="63.2" y="604.9" width="0.7" height="0.7" fill="#9aa3d2"/>
<rect x="77.5" y="601.2" width="0.7" height="0.7" fill="#b4bbe0"/>
<rect x="74.9" y="599.9" width="0.7" height="0.7" fill="#9aa3d2"/>
<rect x="79.0" y="601.7" width="0.7" height="0.7" fill="#c9cdea"/>
<rect x="72.8" y="613.7" width="0.7" height="0.7" fill="#9aa3d2"/>
<rect x="89.5" y="608.4" width="0.7" height="0.7" fill="#9aa3d2"/>
<rect x="73.8" y="602.9" width="0.7" height="0.7" fill="#8690c6"/>
<rect x="63.2" y="615.0" width="0.7" height="0.7" fill="#b4bbe0"/>
<rect x="65.8" y="619.0" width="0.7" height="0.7" fill="#8690c6"/>
<rect x="74.9" y="611.0" width="0.7" height="0.7" fill="#8690c6"/>
<rect x="82.5" y="610.8" width="0.7" height="0.7" fill="#8690c6"/>
<rect x="69.5" y="603.9" width="0.7" height="0.7" fill="#c9cdea"/>
<rect x="75.4" y="603.2" width="0.7" height="0.7" fill="#9aa3d2"/>
<rect x="68.6" y="611.1" width="0.7" height="0.7" fill="#a8afdc"/>
<rect x="69.2" y="606.7" width="0.7" height="0.7" fill="#9aa3d2"/>
<rect x="61.9" y="614.0" width="0.7" height="0.7" fill="#9aa3d2"/>
<rect x="61.4" y="612.8" width="0.7" height="0.7" fill="#c9cdea"/>
<rect x="74.0" y="610.7" width="0.7" height="0.7" fill="#9aa3d2"/>
<rect x="78.5" y="609.3" width="0.7" height="0.7" fill="#c9cdea"/>
<rect x="62.3" y="603.9" width="0.7" height="0.7" fill="#c9cdea"/>
<rect x="49.1" y="611.0" width="0.7" height="0.7" fill="#a8afdc"/>
<rect x="66.6" y="628.2" width="0.7" height="0.7" fill="#8690c6"/>
<rect x="76.5" y="596.4" width="0.7" height="0.7" fill="#b4bbe0"/>
<rect x="63.7" y="614.4" width="0.7" height="0.7" fill="#9aa3d2"/>
<rect x="64.1" y="613.1" width="0.7" height="0.7" fill="#8690c6"/>
<rect x="62.4" y="619.7" width="0.7" height="0.7" fill="#c9cdea"/>
<rect x="79.6" y="602.2" width="0.7" height="0.7" fill="#c9cdea"/>
<rect x="69.6" y="611.3" width="0.7" height="0.7" fill="#b4bbe0"/>
<rect x="64.9" y="620.1" width="0.7" height="0.7" fill="#a8afdc"/>
<rect x="59.2" y="615.9" width="0.7" height="0.7" fill="#b4bbe0"/>
<rect x="72.4" y="610.1" width="0.7" height="0.7" fill="#a8afdc"/>
<rect x="68.4" y="602.3" width="0.7" height="0.7" fill="#9aa3d2"/>
<rect x="63.4" y="618.9" width="0.7" height="0.7" fill="#b4bbe0"/>
<rect x="74.6" y="605.4" width="0.7" height="0.7" fill="#a8afdc"/>
<rect x="67.7" y="609.1" width="0.7" height="0.7" fill="#c9cdea"/>
<rect x="65.4" y="609.3" width="0.7" height="0.7" fill="#b4bbe0"/>
<rect x="75.0" y="615.2" width="0.7" height="0.7" fill="#b4bbe0"/>
<rect x="60.9" y="615.1" width="0.7" height="0.7" fill="#a8afdc"/>
<rect x="71.0" y="614.7" width="0.7" height="0.7" fill="#b4bbe0"/>
<rect x="65.9" y="605.2" width="0.7" height="0.7" fill="#8690c6"/>
<rect x="72.3" y="616.0" width="0.7" height="0.7" fill="#b4bbe0"/>
<rect x="66.8" y="628.7" width="0.7" height="0.7" fill="#9aa3d2"/>
<rect x="74.7" y="618.2" width="0.7" height="0.7" fill="#b4bbe0"/>
<rect x="48.7" y="631.5" width="0.7" height="0.7" fill="#8690c6"/>
<rect x="67.0" y="606.6" width="0.7" height="0.7" fill="#b4bbe0"/>
<rect x="83.3" y="616.0" width="0.7" height="0.7" fill="#8690c6"/>
<rect x="70.4" y="617.9" width="0.7" height="0.7" fill="#9aa3d2"/>
<rect x="85.6" y="607.5" width="0.7" height="0.7" fill="#c9cdea"/>
<rect x="64.3" y="607.3" width="0.7" height="0.7" fill="#8690c6"/>
<rect x="63.2" y="615.3" width="0.7" height="0.7" fill="#a8afdc"/>
<rect x="67.9" y="612.2" width="0.7" height="0.7" fill="#b4bbe0"/>
<rect x="76.0" y="606.4" width="0.7" height="0.7" fill="#a8afdc"/>
<rect x="56.9" y="612.1" width="0.7" height="0.7" fill="#b4bbe0"/>
<rect x="61.5" y="607.3" width="0.7" height="0.7" fill="#a8afdc"/>
<rect x="76.1" y="602.4" width="0.7" height="0.7" fill="#9aa3d2"/>
<rect x="60.5" y="617.0" width="0.7" height="0.7" fill="#9aa3d2"/>
<rect x="73.3" y="608.1" width="0.7" height="0.7" fill="#c9cdea"/>
<rect x="65.1" y="605.3" width="0.7" height="0.7" fill="#8690c6"/>
<rect x="74.0" y="604.9" width="0.7" height="0.7" fill="#9aa3d2"/>
<rect x="61.3" y="610.8" width="0.7" height="0.7" fill="#b4bbe0"/>
<rect x="74.3" y="607.1" width="0.7" height="0.7" fill="#9aa3d2"/>
<rect x="60.0" y="620.3" width="0.7" height="0.7" fill="#9aa3d2"/>
<rect x="78.9" y="610.8" width="0.7" height="0.7" fill="#b4bbe0"/>
<rect x="63.3" y="599.6" width="0.7" height="0.7" fill="#b4bbe0"/>
<rect x="63.9" y="613.9" width="0.7" height="0.7" fill="#a8afdc"/>
<rect x="62.1" y="616.0" width="0.7" height="0.7" fill="#c9cdea"/>
<rect x="55.2" y="616.7" width="0.7" height="0.7" fill="#8690c6"/>
<rect x="58.8" y="615.2" width="0.7" height="0.7" fill="#c9cdea"/>
<rect x="71.4" y="620.7" width="0.7" height="0.7" fill="#c9cdea"/>
<rect x="47.2" y="619.0" width="0.7" height="0.7" fill="#a8afdc"/>
<rect x="66.1" y="615.1" width="0.7" height="0.7" fill="#8690c6"/>
<rect x="65.6" y="615.1" width="0.7" height="0.7" fill="#9aa3d2"/>
<rect x="59.8" y="618.9" width="0.7" height="0.7" fill="#8690c6"/>
<rect x="64.2" y="612.7" width="0.7" height="0.7" fill="#8690c6"/>
<rect x="66.9" y="598.5" width="0.7" height="0.7" fill="#a8afdc"/>
<rect x="77.7" y="607.7" width="0.7" height="0.7" fill="#b4bbe0"/>
<rect x="78.7" y="616.8" width="0.7" height="0.7" fill="#b4bbe0"/>
<rect x="56.7" y="618.4" width="0.7" height="0.7" fill="#b4bbe0"/>
<rect x="70.0" y="608.9" width="0.7" height="0.7" fill="#c9cdea"/>
<rect x="60.6" y="616.4" width="0.7" height="0.7" fill="#a8afdc"/>
<rect x="58.8" y="607.4" width="0.7" height="0.7" fill="#c9cdea"/>
<rect x="57.3" y="626.2" width="0.7" height="0.7" fill="#8690c6"/>
<rect x="64.1" y="605.1" width="0.7" height="0.7" fill="#c9cdea"/>
<rect x="63.5" y="608.0" width="0.7" height="0.7" fill="#8690c6"/>
<rect x="59.8" y="622.8" width="0.7" height="0.7" fill="#8690c6"/>
<rect x="58.6" y="617.0" width="0.7" height="0.7" fill="#9aa3d2"/>
<rect x="63.4" y="609.5" width="0.7" height="0.7" fill="#8690c6"/>
<rect x="69.9" y="610.4" width="0.7" height="0.7" fill="#a8afdc"/>
<rect x="81.1" y="602.1" width="0.7" height="0.7" fill="#b4bbe0"/>
<rect x="59.9" y="614.6" width="0.7" height="0.7" fill="#a8afdc"/>
<rect x="69.4" y="612.4" width="0.7" height="0.7" fill="#9aa3d2"/>
<rect x="113.1" y="605.5" width="0.7" height="0.7" fill="#5a6cc0"/>
<rect x="107.7" y="602.8" width="0.7" height="0.7" fill="#7480c8"/>
<rect x="115.0" y="603.0" width="0.7" height="0.7" fill="#7480c8"/>
<rect x="117.9" y="619.6" width="0.7" height="0.7" fill="#7480c8"/>
<rect x="109.7" y="602.5" width="0.7" height="0.7" fill="#5a6cc0"/>
<rect x="109.2" y="594.8" width="0.7" height="0.7" fill="#3f56b2"/>
<rect x="119.4" y="623.8" width="0.7" height="0.7" fill="#5a6cc0"/>
<rect x="114.0" y="601.6" width="0.7" height="0.7" fill="#5a6cc0"/>
<rect x="112.4" y="608.7" width="0.7" height="0.7" fill="#7480c8"/>
<rect x="116.4" y="602.2" width="0.7" height="0.7" fill="#5a6cc0"/>
<rect x="107.4" y="612.9" width="0.7" height="0.7" fill="#8c98d4"/>
<rect x="116.4" y="616.3" width="0.7" height="0.7" fill="#5a6cc0"/>
<rect x="118.4" y="617.5" width="0.7" height="0.7" fill="#8c98d4"/>
<rect x="109.7" y="596.5" width="0.7" height="0.7" fill="#3f56b2"/>
<rect x="102.7" y="628.6" width="0.7" height="0.7" fill="#5a6cc0"/>
<rect x="118.3" y="618.5" width="0.7" height="0.7" fill="#5a6cc0"/>
<rect x="116.8" y="611.3" width="0.7" height="0.7" fill="#3f56b2"/>
<rect x="115.7" y="607.4" width="0.7" height="0.7" fill="#8c98d4"/>
<rect x="107.6" y="612.8" width="0.7" height="0.7" fill="#5a6cc0"/>
<rect x="117.8" y="619.9" width="0.7" height="0.7" fill="#7480c8"/>
<rect x="113.7" y="625.9" width="0.7" height="0.7" fill="#3f56b2"/>
<rect x="113.8" y="623.8" width="0.7" height="0.7" fill="#7480c8"/>
<rect x="116.0" y="618.9" width="0.7" height="0.7" fill="#3f56b2"/>
<rect x="107.9" y="605.5" width="0.7" height="0.7" fill="#3f56b2"/>
<rect x="114.0" y="619.1" width="0.7" height="0.7" fill="#3f56b2"/>
<rect x="112.5" y="610.8" width="0.7" height="0.7" fill="#3f56b2"/>
<rect x="120.9" y="609.0" width="0.7" height="0.7" fill="#5a6cc0"/>
<rect x="114.9" y="617.7" width="0.7" height="0.7" fill="#3f56b2"/>
<rect x="112.6" y="617.6" width="0.7" height="0.7" fill="#8c98d4"/>
<rect x="114.3" y="610.2" width="0.7" height="0.7" fill="#3f56b2"/>
<rect x="116.8" y="612.7" width="0.7" height="0.7" fill="#8c98d4"/>
<rect x="110.0" y="602.9" width="0.7" height="0.7" fill="#8c98d4"/>
<rect x="110.3" y="602.7" width="0.7" height="0.7" fill="#5a6cc0"/>
<rect x="118.8" y="623.7" width="0.7" height="0.7" fill="#8c98d4"/>
<rect x="113.3" y="607.1" width="0.7" height="0.7" fill="#7480c8"/>
<rect x="117.4" y="604.3" width="0.7" height="0.7" fill="#5a6cc0"/>
<rect x="119.5" y="604.4" width="0.7" height="0.7" fill="#3f56b2"/>
<rect x="116.6" y="607.5" width="0.7" height="0.7" fill="#3f56b2"/>
<rect x="112.4" y="608.4" width="0.7" height="0.7" fill="#3f56b2"/>
<rect x="116.3" y="613.1" width="0.7" height="0.7" fill="#5a6cc0"/>
<rect x="111.3" y="616.3" width="0.7" height="0.7" fill="#5a6cc0"/>
<rect x="110.9" y="611.2" width="0.7" height="0.7" fill="#5a6cc0"/>
<rect x="114.9" y="601.9" width="0.7" height="0.7" fill="#8c98d4"/>
<rect x="115.1" y="611.5" width="0.7" height="0.7" fill="#8c98d4"/>
<rect x="103.1" y="595.6" width="0.7" height="0.7" fill="#7480c8"/>
<rect x="111.8" y="612.4" width="0.7" height="0.7" fill="#5a6cc0"/>
<rect x="120.2" y="616.0" width="0.7" height="0.7" fill="#7480c8"/>
<rect x="111.7" y="604.4" width="0.7" height="0.7" fill="#5a6cc0"/>
<rect x="114.2" y="606.9" width="0.7" height="0.7" fill="#5a6cc0"/>
<rect x="116.6" y="615.4" width="0.7" height="0.7" fill="#8c98d4"/>
<rect x="122.0" y="612.6" width="0.7" height="0.7" fill="#7480c8"/>
<rect x="110.1" y="615.4" width="0.7" height="0.7" fill="#5a6cc0"/>
<rect x="112.9" y="621.9" width="0.7" height="0.7" fill="#7480c8"/>
<rect x="114.9" y="607.3" width="0.7" height="0.7" fill="#8c98d4"/>
<rect x="107.6" y="616.0" width="0.7" height="0.7" fill="#3f56b2"/>
<rect x="116.5" y="609.5" width="0.7" height="0.7" fill="#5a6cc0"/>
<rect x="116.3" y="611.1" width="0.7" height="0.7" fill="#5a6cc0"/>
<rect x="113.7" y="615.9" width="0.7" height="0.7" fill="#7480c8"/>
<rect x="122.1" y="606.6" width="0.7" height="0.7" fill="#5a6cc0"/>
<rect x="114.7" y="630.6" width="0.7" height="0.7" fill="#8c98d4"/>
<rect x="113.4" y="612.0" width="0.7" height="0.7" fill="#5a6cc0"/>
<rect x="113.4" y="620.6" width="0.7" height="0.7" fill="#8c98d4"/>
<rect x="109.2" y="613.2" width="0.7" height="0.7" fill="#8c98d4"/>
<rect x="121.3" y="605.8" width="0.7" height="0.7" fill="#3f56b2"/>
<rect x="115.7" y="614.0" width="0.7" height="0.7" fill="#3f56b2"/>
<rect x="118.4" y="600.7" width="0.7" height="0.7" fill="#5a6cc0"/>
<rect x="116.6" y="600.6" width="0.7" height="0.7" fill="#3f56b2"/>
<rect x="104.6" y="598.8" width="0.7" height="0.7" fill="#7480c8"/>
<rect x="112.7" y="620.4" width="0.7" height="0.7" fill="#7480c8"/>
<rect x="115.7" y="604.3" width="0.7" height="0.7" fill="#5a6cc0"/>
<rect x="115.2" y="617.3" width="0.7" height="0.7" fill="#7480c8"/>
<rect x="108.2" y="602.6" width="0.7" height="0.7" fill="#5a6cc0"/>
<rect x="115.8" y="615.7" width="0.7" height="0.7" fill="#7480c8"/>
<rect x="117.0" y="628.0" width="0.7" height="0.7" fill="#8c98d4"/>
<rect x="115.1" y="614.0" width="0.7" height="0.7" fill="#8c98d4"/>
<rect x="115.5" y="605.4" width="0.7" height="0.7" fill="#7480c8"/>
<rect x="115.5" y="613.8" width="0.7" height="0.7" fill="#8c98d4"/>
<rect x="113.2" y="612.3" width="0.7" height="0.7" fill="#3f56b2"/>
<rect x="115.0" y="610.4" width="0.7" height="0.7" fill="#8c98d4"/>
<rect x="114.1" y="611.9" width="0.7" height="0.7" fill="#3f56b2"/>
<rect x="115.1" y="604.7" width="0.7" height="0.7" fill="#3f56b2"/>
<rect x="118.1" y="603.9" width="0.7" height="0.7" fill="#8c98d4"/>
<rect x="112.9" y="610.8" width="0.7" height="0.7" fill="#7480c8"/>
<rect x="117.2" y="616.2" width="0.7" height="0.7" fill="#3f56b2"/>
<rect x="113.6" y="619.6" width="0.7" height="0.7" fill="#8c98d4"/>
<rect x="114.5" y="593.9" width="0.7" height="0.7" fill="#7480c8"/>
<rect x="114.7" y="614.0" width="0.7" height="0.7" fill="#8c98d4"/>
<rect x="115.4" y="606.0" width="0.7" height="0.7" fill="#5a6cc0"/>
<rect x="114.3" y="619.8" width="0.7" height="0.7" fill="#5a6cc0"/>
<rect x="118.3" y="614.3" width="0.7" height="0.7" fill="#8c98d4"/>
<rect x="112.8" y="607.8" width="0.7" height="0.7" fill="#3f56b2"/>
<rect x="108.6" y="620.6" width="0.7" height="0.7" fill="#7480c8"/>
<rect x="115.9" y="613.4" width="0.7" height="0.7" fill="#7480c8"/>
<rect x="119.4" y="610.7" width="0.7" height="0.7" fill="#5a6cc0"/>
<rect x="120.8" y="614.5" width="0.7" height="0.7" fill="#8c98d4"/>
<rect x="108.3" y="612.4" width="0.7" height="0.7" fill="#5a6cc0"/>
<rect x="117.8" y="601.5" width="0.7" height="0.7" fill="#5a6cc0"/>
<rect x="114.6" y="607.3" width="0.7" height="0.7" fill="#3f56b2"/>
<rect x="109.7" y="606.0" width="0.7" height="0.7" fill="#8c98d4"/>
<rect x="121.0" y="626.6" width="0.7" height="0.7" fill="#3f56b2"/>
<rect x="116.2" y="613.4" width="0.7" height="0.7" fill="#3f56b2"/>
<rect x="116.7" y="609.9" width="0.7" height="0.7" fill="#5a6cc0"/>
<rect x="115.9" y="608.7" width="0.7" height="0.7" fill="#8c98d4"/>
<rect x="117.9" y="612.7" width="0.7" height="0.7" fill="#5a6cc0"/>
<rect x="120.3" y="606.1" width="0.7" height="0.7" fill="#3f56b2"/>
<rect x="111.3" y="605.9" width="0.7" height="0.7" fill="#5a6cc0"/>
<rect x="112.1" y="612.6" width="0.7" height="0.7" fill="#8c98d4"/>
<rect x="119.8" y="618.1" width="0.7" height="0.7" fill="#7480c8"/>
<rect x="109.8" y="616.8" width="0.7" height="0.7" fill="#5a6cc0"/>
<rect x="107.7" y="614.9" width="0.7" height="0.7" fill="#5a6cc0"/>
<rect x="121.7" y="624.9" width="0.7" height="0.7" fill="#5a6cc0"/>
<rect x="121.7" y="603.9" width="0.7" height="0.7" fill="#7480c8"/>
<rect x="114.1" y="589.2" width="0.7" height="0.7" fill="#8c98d4"/>
<rect x="117.1" y="600.6" width="0.7" height="0.7" fill="#8c98d4"/>
<rect x="118.8" y="609.7" width="0.7" height="0.7" fill="#7480c8"/>
<rect x="110.4" y="612.7" width="0.7" height="0.7" fill="#7480c8"/>
<rect x="114.3" y="623.5" width="0.7" height="0.7" fill="#7480c8"/>
<rect x="112.9" y="600.1" width="0.7" height="0.7" fill="#7480c8"/>
<rect x="113.8" y="612.9" width="0.7" height="0.7" fill="#8c98d4"/>
<rect x="114.1" y="613.7" width="0.7" height="0.7" fill="#3f56b2"/>
<rect x="112.2" y="607.8" width="0.7" height="0.7" fill="#7480c8"/>
<rect x="116.1" y="615.2" width="0.7" height="0.7" fill="#8c98d4"/>
<rect x="116.8" y="608.5" width="0.7" height="0.7" fill="#5a6cc0"/>
<rect x="109.3" y="599.6" width="0.7" height="0.7" fill="#7480c8"/>
<rect x="107.8" y="604.9" width="0.7" height="0.7" fill="#5a6cc0"/>
<rect x="116.3" y="616.9" width="0.7" height="0.7" fill="#3f56b2"/>
<rect x="113.3" y="613.8" width="0.7" height="0.7" fill="#7480c8"/>
<rect x="116.9" y="609.2" width="0.7" height="0.7" fill="#3f56b2"/>
<rect x="114.0" y="613.6" width="0.7" height="0.7" fill="#3f56b2"/>
<rect x="120.5" y="620.9" width="0.7" height="0.7" fill="#8c98d4"/>
<rect x="115.7" y="603.5" width="0.7" height="0.7" fill="#7480c8"/>
<rect x="110.0" y="616.4" width="0.7" height="0.7" fill="#3f56b2"/>
<rect x="118.5" y="619.7" width="0.7" height="0.7" fill="#8c98d4"/>
<rect x="118.3" y="622.2" width="0.7" height="0.7" fill="#7480c8"/>
<rect x="116.9" y="602.1" width="0.7" height="0.7" fill="#7480c8"/>
<rect x="114.1" y="605.3" width="0.7" height="0.7" fill="#5a6cc0"/>
<rect x="117.1" y="594.8" width="0.7" height="0.7" fill="#8c98d4"/>
<rect x="115.0" y="605.5" width="0.7" height="0.7" fill="#7480c8"/>
<rect x="109.6" y="602.0" width="0.7" height="0.7" fill="#7480c8"/>
<rect x="112.9" y="608.1" width="0.7" height="0.7" fill="#5a6cc0"/>
<rect x="112.5" y="601.0" width="0.7" height="0.7" fill="#5a6cc0"/>
<rect x="111.9" y="610.1" width="0.7" height="0.7" fill="#3f56b2"/>
<rect x="117.7" y="596.3" width="0.7" height="0.7" fill="#8c98d4"/>
<rect x="119.7" y="615.9" width="0.7" height="0.7" fill="#8c98d4"/>
<rect x="120.9" y="620.7" width="0.7" height="0.7" fill="#7480c8"/>
<rect x="120.7" y="626.3" width="0.7" height="0.7" fill="#3f56b2"/>
<rect x="122.0" y="614.1" width="0.7" height="0.7" fill="#5a6cc0"/>
<rect x="112.4" y="627.0" width="0.7" height="0.7" fill="#5a6cc0"/>
<rect x="121.5" y="620.6" width="0.7" height="0.7" fill="#3f56b2"/>
<rect x="114.5" y="593.6" width="0.7" height="0.7" fill="#5a6cc0"/>
<rect x="115.7" y="615.1" width="0.7" height="0.7" fill="#8c98d4"/>
<rect x="114.9" y="611.7" width="0.7" height="0.7" fill="#7480c8"/>
<rect x="116.8" y="616.5" width="0.7" height="0.7" fill="#5a6cc0"/>
<rect x="115.2" y="621.4" width="0.7" height="0.7" fill="#5a6cc0"/>
<rect x="124.8" y="613.5" width="0.7" height="0.7" fill="#7480c8"/>
<rect x="117.5" y="627.7" width="0.7" height="0.7" fill="#8c98d4"/>
<rect x="109.3" y="609.0" width="0.7" height="0.7" fill="#5a6cc0"/>
<rect x="115.0" y="614.2" width="0.7" height="0.7" fill="#7480c8"/>
<rect x="117.7" y="612.3" width="0.7" height="0.7" fill="#8c98d4"/>
<rect x="108.8" y="603.3" width="0.7" height="0.7" fill="#5a6cc0"/>
<rect x="119.4" y="617.2" width="0.7" height="0.7" fill="#7480c8"/>
<rect x="112.7" y="609.4" width="0.7" height="0.7" fill="#7480c8"/>
<rect x="120.0" y="620.2" width="0.7" height="0.7" fill="#8c98d4"/>
<rect x="121.4" y="625.1" width="0.7" height="0.7" fill="#8c98d4"/>
<rect x="112.1" y="599.9" width="0.7" height="0.7" fill="#5a6cc0"/>
<rect x="110.1" y="623.8" width="0.7" height="0.7" fill="#3f56b2"/>
<rect x="114.9" y="616.5" width="0.7" height="0.7" fill="#3f56b2"/>
<rect x="111.5" y="594.5" width="0.7" height="0.7" fill="#3f56b2"/>
<rect x="116.3" y="595.3" width="0.7" height="0.7" fill="#5a6cc0"/>
<rect x="115.3" y="615.4" width="0.7" height="0.7" fill="#3f56b2"/>
<rect x="117.0" y="620.2" width="0.7" height="0.7" fill="#5a6cc0"/>
<rect x="113.6" y="619.1" width="0.7" height="0.7" fill="#5a6cc0"/>
<rect x="115.2" y="616.3" width="0.7" height="0.7" fill="#5a6cc0"/>
<rect x="117.6" y="620.1" width="0.7" height="0.7" fill="#8c98d4"/>
<rect x="114.1" y="590.6" width="0.7" height="0.7" fill="#5a6cc0"/>
<rect x="116.0" y="594.0" width="0.7" height="0.7" fill="#5a6cc0"/>
<rect x="121.5" y="613.7" width="0.7" height="0.7" fill="#3f56b2"/>
<rect x="119.4" y="604.9" width="0.7" height="0.7" fill="#5a6cc0"/>
<rect x="112.8" y="606.4" width="0.7" height="0.7" fill="#5a6cc0"/>
<rect x="108.1" y="619.7" width="0.7" height="0.7" fill="#3f56b2"/>
<rect x="119.1" y="616.3" width="0.7" height="0.7" fill="#7480c8"/>
<rect x="120.6" y="619.1" width="0.7" height="0.7" fill="#3f56b2"/>
<rect x="121.0" y="617.0" width="0.7" height="0.7" fill="#7480c8"/>
<rect x="111.8" y="614.9" width="0.7" height="0.7" fill="#3f56b2"/>
<rect x="119.2" y="605.2" width="0.7" height="0.7" fill="#3f56b2"/>
<rect x="116.2" y="614.8" width="0.7" height="0.7" fill="#3f56b2"/>
<rect x="117.0" y="600.8" width="0.7" height="0.7" fill="#7480c8"/>
<rect x="113.4" y="606.2" width="0.7" height="0.7" fill="#3f56b2"/>
<rect x="111.2" y="613.7" width="0.7" height="0.7" fill="#8c98d4"/>
<rect x="112.5" y="612.5" width="0.7" height="0.7" fill="#7480c8"/>
<rect x="115.1" y="615.9" width="0.7" height="0.7" fill="#8c98d4"/>
<rect x="119.2" y="609.3" width="0.7" height="0.7" fill="#3f56b2"/>
<rect x="123.4" y="629.5" width="0.7" height="0.7" fill="#3f56b2"/>
<rect x="110.8" y="607.4" width="0.7" height="0.7" fill="#3f56b2"/>
<rect x="116.9" y="606.8" width="0.7" height="0.7" fill="#5a6cc0"/>
<rect x="115.2" y="605.9" width="0.7" height="0.7" fill="#5a6cc0"/>
<rect x="112.0" y="606.0" width="0.7" height="0.7" fill="#5a6cc0"/>
<rect x="108.0" y="609.2" width="0.7" height="0.7" fill="#3f56b2"/>
<rect x="114.8" y="606.8" width="0.7" height="0.7" fill="#7480c8"/>
<rect x="121.3" y="610.1" width="0.7" height="0.7" fill="#7480c8"/>
<rect x="111.5" y="617.5" width="0.7" height="0.7" fill="#7480c8"/>
<rect x="111.6" y="600.1" width="0.7" height="0.7" fill="#3f56b2"/>
<rect x="116.2" y="601.4" width="0.7" height="0.7" fill="#8c98d4"/>
<rect x="116.8" y="623.3" width="0.7" height="0.7" fill="#7480c8"/>
<rect x="114.4" y="613.1" width="0.7" height="0.7" fill="#8c98d4"/>
<rect x="114.4" y="599.4" width="0.7" height="0.7" fill="#8c98d4"/>
<rect x="108.2" y="627.6" width="0.7" height="0.7" fill="#7480c8"/>
<rect x="110.8" y="618.6" width="0.7" height="0.7" fill="#5a6cc0"/>
<rect x="113.5" y="617.6" width="0.7" height="0.7" fill="#8c98d4"/>
<rect x="115.9" y="619.0" width="0.7" height="0.7" fill="#3f56b2"/>
<rect x="112.8" y="618.1" width="0.7" height="0.7" fill="#8c98d4"/>
<rect x="115.2" y="610.2" width="0.7" height="0.7" fill="#8c98d4"/>
<rect x="113.9" y="616.1" width="0.7" height="0.7" fill="#3f56b2"/>
<rect x="115.6" y="602.1" width="0.7" height="0.7" fill="#8c98d4"/>
<rect x="113.9" y="609.1" width="0.7" height="0.7" fill="#3f56b2"/>
<rect x="114.5" y="626.2" width="0.7" height="0.7" fill="#7480c8"/>
<rect x="117.9" y="609.5" width="0.7" height="0.7" fill="#8c98d4"/>
<rect x="121.1" y="597.1" width="0.7" height="0.7" fill="#5a6cc0"/>
<rect x="120.9" y="614.3" width="0.7" height="0.7" fill="#8c98d4"/>
<rect x="115.6" y="621.4" width="0.7" height="0.7" fill="#3f56b2"/>
<rect x="100.9" y="603.5" width="0.7" height="0.7" fill="#8c98d4"/>
<rect x="113.6" y="616.3" width="0.7" height="0.7" fill="#3f56b2"/>
<rect x="115.1" y="611.4" width="0.7" height="0.7" fill="#5a6cc0"/>
<rect x="113.7" y="610.4" width="0.7" height="0.7" fill="#3f56b2"/>
<rect x="109.9" y="610.9" width="0.7" height="0.7" fill="#7480c8"/>
<rect x="120.6" y="595.4" width="0.7" height="0.7" fill="#8c98d4"/>
<rect x="111.5" y="619.7" width="0.7" height="0.7" fill="#3f56b2"/>
<rect x="111.3" y="597.4" width="0.7" height="0.7" fill="#5a6cc0"/>
<rect x="118.2" y="617.8" width="0.7" height="0.7" fill="#5a6cc0"/>
<rect x="116.4" y="601.6" width="0.7" height="0.7" fill="#5a6cc0"/>
<rect x="112.9" y="604.9" width="0.7" height="0.7" fill="#3f56b2"/>
<rect x="117.1" y="586.8" width="0.7" height="0.7" fill="#8c98d4"/>
<rect x="111.2" y="603.1" width="0.7" height="0.7" fill="#7480c8"/>
<rect x="113.1" y="610.8" width="0.7" height="0.7" fill="#7480c8"/>
<rect x="120.9" y="615.2" width="0.7" height="0.7" fill="#5a6cc0"/>
<rect x="111.4" y="633.3" width="0.7" height="0.7" fill="#5a6cc0"/>
<rect x="115.2" y="609.8" width="0.7" height="0.7" fill="#5a6cc0"/>
<rect x="115.4" y="623.6" width="0.7" height="0.7" fill="#5a6cc0"/>
<rect x="118.4" y="606.6" width="0.7" height="0.7" fill="#5a6cc0"/>
<rect x="109.6" y="604.3" width="0.7" height="0.7" fill="#7480c8"/>
<rect x="120.6" y="624.4" width="0.7" height="0.7" fill="#3f56b2"/>
<rect x="119.3" y="597.5" width="0.7" height="0.7" fill="#7480c8"/>
<rect x="111.4" y="606.9" width="0.7" height="0.7" fill="#5a6cc0"/>
<rect x="119.7" y="619.4" width="0.7" height="0.7" fill="#5a6cc0"/>
<rect x="117.2" y="611.6" width="0.7" height="0.7" fill="#8c98d4"/>
<rect x="116.4" y="600.1" width="0.7" height="0.7" fill="#5a6cc0"/>
<rect x="110.5" y="600.2" width="0.7" height="0.7" fill="#3f56b2"/>
<rect x="118.1" y="616.1" width="0.7" height="0.7" fill="#3f56b2"/>
<rect x="118.0" y="617.1" width="0.7" height="0.7" fill="#5a6cc0"/>
<rect x="119.2" y="594.5" width="0.7" height="0.7" fill="#5a6cc0"/>
<rect x="114.3" y="618.8" width="0.7" height="0.7" fill="#8c98d4"/>
<rect x="118.4" y="611.8" width="0.7" height="0.7" fill="#8c98d4"/>
<rect x="105.4" y="599.9" width="0.7" height="0.7" fill="#8c98d4"/>
<rect x="118.6" y="613.2" width="0.7" height="0.7" fill="#7480c8"/>
<rect x="116.8" y="604.9" width="0.7" height="0.7" fill="#8c98d4"/>
<rect x="115.5" y="622.3" width="0.7" height="0.7" fill="#8c98d4"/>
<rect x="117.0" y="610.6" width="0.7" height="0.7" fill="#8c98d4"/>
<rect x="111.7" y="600.6" width="0.7" height="0.7" fill="#8c98d4"/>
<rect x="115.2" y="627.7" width="0.7" height="0.7" fill="#8c98d4"/>
<rect x="123.7" y="613.5" width="0.7" height="0.7" fill="#5a6cc0"/>
<rect x="118.4" y="618.4" width="0.7" height="0.7" fill="#7480c8"/>
<rect x="123.8" y="611.9" width="0.7" height="0.7" fill="#8c98d4"/>
<rect x="113.6" y="609.4" width="0.7" height="0.7" fill="#8c98d4"/>
<rect x="114.3" y="622.0" width="0.7" height="0.7" fill="#5a6cc0"/>
<rect x="109.3" y="620.1" width="0.7" height="0.7" fill="#7480c8"/>
<rect x="113.2" y="617.4" width="0.7" height="0.7" fill="#3f56b2"/>
<rect x="116.0" y="613.3" width="0.7" height="0.7" fill="#5a6cc0"/>
<rect x="115.0" y="615.3" width="0.7" height="0.7" fill="#7480c8"/>
<rect x="118.7" y="614.8" width="0.7" height="0.7" fill="#7480c8"/>
<rect x="111.0" y="607.7" width="0.7" height="0.7" fill="#7480c8"/>
<rect x="118.6" y="617.9" width="0.7" height="0.7" fill="#8c98d4"/>
<rect x="110.9" y="626.5" width="0.7" height="0.7" fill="#7480c8"/>
<rect x="115.7" y="620.6" width="0.7" height="0.7" fill="#7480c8"/>
<rect x="117.6" y="620.6" width="0.7" height="0.7" fill="#7480c8"/>
<rect x="111.3" y="605.6" width="0.7" height="0.7" fill="#3f56b2"/>
<rect x="111.4" y="609.1" width="0.7" height="0.7" fill="#7480c8"/>
<rect x="121.7" y="621.4" width="0.7" height="0.7" fill="#5a6cc0"/>
<rect x="112.3" y="609.2" width="0.7" height="0.7" fill="#8c98d4"/>
<rect x="122.1" y="613.5" width="0.7" height="0.7" fill="#7480c8"/>
<rect x="115.4" y="619.1" width="0.7" height="0.7" fill="#5a6cc0"/>
<rect x="111.2" y="596.7" width="0.7" height="0.7" fill="#7480c8"/>
<rect x="114.8" y="622.7" width="0.7" height="0.7" fill="#5a6cc0"/>
<rect x="124.7" y="619.1" width="0.7" height="0.7" fill="#3f56b2"/>
<rect x="119.7" y="624.1" width="0.7" height="0.7" fill="#5a6cc0"/>
<rect x="116.6" y="615.5" width="0.7" height="0.7" fill="#8c98d4"/>
<rect x="116.1" y="619.8" width="0.7" height="0.7" fill="#8c98d4"/>
<rect x="114.2" y="593.0" width="0.7" height="0.7" fill="#7480c8"/>
<rect x="117.5" y="608.9" width="0.7" height="0.7" fill="#3f56b2"/>
<rect x="111.4" y="599.3" width="0.7" height="0.7" fill="#3f56b2"/>
<rect x="116.1" y="609.8" width="0.7" height="0.7" fill="#8c98d4"/>
<rect x="118.2" y="628.0" width="0.7" height="0.7" fill="#3f56b2"/>
<rect x="116.7" y="608.8" width="0.7" height="0.7" fill="#3f56b2"/>
<rect x="124.0" y="623.9" width="0.7" height="0.7" fill="#7480c8"/>
<rect x="115.0" y="608.5" width="0.7" height="0.7" fill="#5a6cc0"/>
<rect x="111.5" y="605.1" width="0.7" height="0.7" fill="#3f56b2"/>
<rect x="120.9" y="623.0" width="0.7" height="0.7" fill="#3f56b2"/>
<rect x="107.0" y="595.8" width="0.7" height="0.7" fill="#7480c8"/>
<rect x="109.1" y="605.0" width="0.7" height="0.7" fill="#3f56b2"/>
<rect x="119.9" y="605.1" width="0.7" height="0.7" fill="#3f56b2"/>
<rect x="117.1" y="609.3" width="0.7" height="0.7" fill="#3f56b2"/>
<rect x="120.5" y="600.5" width="0.7" height="0.7" fill="#5a6cc0"/>
<rect x="121.1" y="608.8" width="0.7" height="0.7" fill="#5a6cc0"/>
<rect x="115.4" y="605.2" width="0.7" height="0.7" fill="#3f56b2"/>
<rect x="115.0" y="607.3" width="0.7" height="0.7" fill="#8c98d4"/>
<rect x="121.0" y="610.9" width="0.7" height="0.7" fill="#7480c8"/>
<rect x="115.8" y="614.7" width="0.7" height="0.7" fill="#8c98d4"/>
<rect x="112.7" y="613.8" width="0.7" height="0.7" fill="#8c98d4"/>
<rect x="109.6" y="610.3" width="0.7" height="0.7" fill="#7480c8"/>
<rect x="112.1" y="615.6" width="0.7" height="0.7" fill="#7480c8"/>
<rect x="113.1" y="611.4" width="0.7" height="0.7" fill="#3f56b2"/>
<rect x="117.4" y="615.7" width="0.7" height="0.7" fill="#7480c8"/>
<rect x="112.5" y="609.2" width="0.7" height="0.7" fill="#5a6cc0"/>
<rect x="118.4" y="618.1" width="0.7" height="0.7" fill="#5a6cc0"/>
<rect x="117.7" y="618.2" width="0.7" height="0.7" fill="#7480c8"/>
<rect x="112.5" y="601.6" width="0.7" height="0.7" fill="#8c98d4"/>
<rect x="116.8" y="617.5" width="0.7" height="0.7" fill="#8c98d4"/>
<rect x="120.7" y="620.3" width="0.7" height="0.7" fill="#3f56b2"/>
<rect x="121.2" y="621.3" width="0.7" height="0.7" fill="#7480c8"/>
<rect x="114.1" y="625.0" width="0.7" height="0.7" fill="#8c98d4"/>
<rect x="115.0" y="605.7" width="0.7" height="0.7" fill="#7480c8"/>
<rect x="111.2" y="605.3" width="0.7" height="0.7" fill="#8c98d4"/>
<rect x="116.0" y="607.2" width="0.7" height="0.7" fill="#3f56b2"/>
<rect x="120.2" y="611.8" width="0.7" height="0.7" fill="#5a6cc0"/>
<rect x="118.9" y="613.6" width="0.7" height="0.7" fill="#7480c8"/>
<rect x="118.9" y="615.8" width="0.7" height="0.7" fill="#5a6cc0"/>
<rect x="119.0" y="619.1" width="0.7" height="0.7" fill="#3f56b2"/>
<rect x="116.0" y="621.9" width="0.7" height="0.7" fill="#5a6cc0"/>
<rect x="115.1" y="607.3" width="0.7" height="0.7" fill="#3f56b2"/>
<rect x="120.4" y="609.6" width="0.7" height="0.7" fill="#5a6cc0"/>
<rect x="107.0" y="593.6" width="0.7" height="0.7" fill="#8c98d4"/>
<rect x="118.9" y="621.2" width="0.7" height="0.7" fill="#5a6cc0"/>
<rect x="115.0" y="614.0" width="0.7" height="0.7" fill="#3f56b2"/>
</g>
<g filter="url(#blur1)">
<ellipse cx="116.2" cy="609.6" rx="4.6" ry="16.0" transform="rotate(11 116.2 609.6)" fill="#4a5cb4" opacity="0.55"/>
<ellipse cx="116.1" cy="610.4" rx="3.8" ry="13.4" transform="rotate(11 116.1 610.4)" fill="#3454b0" opacity="0.8"/>
<ellipse cx="116.0" cy="611.2" rx="3.2" ry="11.2" transform="rotate(11 116.0 611.2)" fill="#2b82bf" opacity="1.0"/>
<ellipse cx="115.8" cy="612.5" rx="2.7" ry="8.8" transform="rotate(11 115.8 612.5)" fill="#22a49a" opacity="1.0"/>
<ellipse cx="115.6" cy="613.8" rx="2.2" ry="6.4" transform="rotate(11 115.6 613.8)" fill="#4db05a" opacity="1.0"/>
<ellipse cx="115.5" cy="614.9" rx="1.6" ry="4.0" transform="rotate(11 115.5 614.9)" fill="#b8c22e" opacity="1.0"/>
<ellipse cx="115.4" cy="615.5" rx="1.0" ry="2.2" transform="rotate(11 115.4 615.5)" fill="#e49a1c" opacity="1.0"/>
</g>
<rect x="97.20" y="580.20" width="28.40" height="55.40" rx="0" fill="none" stroke="#b9b9b9" stroke-width="0.7"/>
<path d="M38.4,638.8 L38.4,548.4 L128.8,548.4 L128.8,638.8" fill="none" stroke="#2e2e2e" stroke-width="1.15"/>
<line x1="37.85" y1="638.80" x2="129.35" y2="638.80" stroke="#2e2e2e" stroke-width="1.15"/>
<line x1="35.00" y1="548.40" x2="38.40" y2="548.40" stroke="#2e2e2e" stroke-width="1.0"/>
<text x="31.90" y="550.72" font-size="7.6" fill="#333333" stroke="#333333" stroke-width="0.12" text-anchor="end" textLength="14.36" lengthAdjust="spacingAndGlyphs">1,0k</text>
<line x1="35.00" y1="566.50" x2="38.40" y2="566.50" stroke="#2e2e2e" stroke-width="1.0"/>
<text x="31.90" y="568.82" font-size="7.6" fill="#333333" stroke="#333333" stroke-width="0.12" text-anchor="end" textLength="12.68" lengthAdjust="spacingAndGlyphs">800</text>
<line x1="35.00" y1="584.60" x2="38.40" y2="584.60" stroke="#2e2e2e" stroke-width="1.0"/>
<text x="31.90" y="586.92" font-size="7.6" fill="#333333" stroke="#333333" stroke-width="0.12" text-anchor="end" textLength="12.68" lengthAdjust="spacingAndGlyphs">600</text>
<line x1="35.00" y1="602.60" x2="38.40" y2="602.60" stroke="#2e2e2e" stroke-width="1.0"/>
<text x="31.90" y="604.92" font-size="7.6" fill="#333333" stroke="#333333" stroke-width="0.12" text-anchor="end" textLength="12.68" lengthAdjust="spacingAndGlyphs">400</text>
<line x1="35.00" y1="620.70" x2="38.40" y2="620.70" stroke="#2e2e2e" stroke-width="1.0"/>
<text x="31.90" y="623.02" font-size="7.6" fill="#333333" stroke="#333333" stroke-width="0.12" text-anchor="end" textLength="12.68" lengthAdjust="spacingAndGlyphs">200</text>
<line x1="35.00" y1="638.80" x2="38.40" y2="638.80" stroke="#2e2e2e" stroke-width="1.0"/>
<text x="31.90" y="641.12" font-size="7.6" fill="#333333" stroke="#333333" stroke-width="0.12" text-anchor="end" textLength="4.23" lengthAdjust="spacingAndGlyphs">0</text>
<line x1="36.80" y1="548.40" x2="38.40" y2="548.40" stroke="#2e2e2e" stroke-width="0.6"/>
<line x1="36.80" y1="552.92" x2="38.40" y2="552.92" stroke="#2e2e2e" stroke-width="0.6"/>
<line x1="36.80" y1="557.44" x2="38.40" y2="557.44" stroke="#2e2e2e" stroke-width="0.6"/>
<line x1="36.80" y1="561.96" x2="38.40" y2="561.96" stroke="#2e2e2e" stroke-width="0.6"/>
<line x1="36.80" y1="566.48" x2="38.40" y2="566.48" stroke="#2e2e2e" stroke-width="0.6"/>
<line x1="36.80" y1="571.00" x2="38.40" y2="571.00" stroke="#2e2e2e" stroke-width="0.6"/>
<line x1="36.80" y1="575.52" x2="38.40" y2="575.52" stroke="#2e2e2e" stroke-width="0.6"/>
<line x1="36.80" y1="580.04" x2="38.40" y2="580.04" stroke="#2e2e2e" stroke-width="0.6"/>
<line x1="36.80" y1="584.56" x2="38.40" y2="584.56" stroke="#2e2e2e" stroke-width="0.6"/>
<line x1="36.80" y1="589.08" x2="38.40" y2="589.08" stroke="#2e2e2e" stroke-width="0.6"/>
<line x1="36.80" y1="593.60" x2="38.40" y2="593.60" stroke="#2e2e2e" stroke-width="0.6"/>
<line x1="36.80" y1="598.12" x2="38.40" y2="598.12" stroke="#2e2e2e" stroke-width="0.6"/>
<line x1="36.80" y1="602.64" x2="38.40" y2="602.64" stroke="#2e2e2e" stroke-width="0.6"/>
<line x1="36.80" y1="607.16" x2="38.40" y2="607.16" stroke="#2e2e2e" stroke-width="0.6"/>
<line x1="36.80" y1="611.68" x2="38.40" y2="611.68" stroke="#2e2e2e" stroke-width="0.6"/>
<line x1="36.80" y1="616.20" x2="38.40" y2="616.20" stroke="#2e2e2e" stroke-width="0.6"/>
<line x1="36.80" y1="620.72" x2="38.40" y2="620.72" stroke="#2e2e2e" stroke-width="0.6"/>
<line x1="36.80" y1="625.24" x2="38.40" y2="625.24" stroke="#2e2e2e" stroke-width="0.6"/>
<line x1="36.80" y1="629.76" x2="38.40" y2="629.76" stroke="#2e2e2e" stroke-width="0.6"/>
<line x1="36.80" y1="634.28" x2="38.40" y2="634.28" stroke="#2e2e2e" stroke-width="0.6"/>
<line x1="47.40" y1="638.80" x2="47.40" y2="641.60" stroke="#2e2e2e" stroke-width="1.0"/>
<line x1="53.48" y1="638.80" x2="53.48" y2="640.30" stroke="#2e2e2e" stroke-width="0.6"/>
<line x1="57.04" y1="638.80" x2="57.04" y2="640.30" stroke="#2e2e2e" stroke-width="0.6"/>
<line x1="59.56" y1="638.80" x2="59.56" y2="640.30" stroke="#2e2e2e" stroke-width="0.6"/>
<line x1="61.52" y1="638.80" x2="61.52" y2="640.30" stroke="#2e2e2e" stroke-width="0.6"/>
<line x1="63.12" y1="638.80" x2="63.12" y2="640.30" stroke="#2e2e2e" stroke-width="0.6"/>
<line x1="64.47" y1="638.80" x2="64.47" y2="640.30" stroke="#2e2e2e" stroke-width="0.6"/>
<line x1="65.64" y1="638.80" x2="65.64" y2="640.30" stroke="#2e2e2e" stroke-width="0.6"/>
<line x1="66.68" y1="638.80" x2="66.68" y2="640.30" stroke="#2e2e2e" stroke-width="0.6"/>
<line x1="67.60" y1="638.80" x2="67.60" y2="641.60" stroke="#2e2e2e" stroke-width="1.0"/>
<line x1="73.68" y1="638.80" x2="73.68" y2="640.30" stroke="#2e2e2e" stroke-width="0.6"/>
<line x1="77.24" y1="638.80" x2="77.24" y2="640.30" stroke="#2e2e2e" stroke-width="0.6"/>
<line x1="79.76" y1="638.80" x2="79.76" y2="640.30" stroke="#2e2e2e" stroke-width="0.6"/>
<line x1="81.72" y1="638.80" x2="81.72" y2="640.30" stroke="#2e2e2e" stroke-width="0.6"/>
<line x1="83.32" y1="638.80" x2="83.32" y2="640.30" stroke="#2e2e2e" stroke-width="0.6"/>
<line x1="84.67" y1="638.80" x2="84.67" y2="640.30" stroke="#2e2e2e" stroke-width="0.6"/>
<line x1="85.84" y1="638.80" x2="85.84" y2="640.30" stroke="#2e2e2e" stroke-width="0.6"/>
<line x1="86.88" y1="638.80" x2="86.88" y2="640.30" stroke="#2e2e2e" stroke-width="0.6"/>
<line x1="87.80" y1="638.80" x2="87.80" y2="641.60" stroke="#2e2e2e" stroke-width="1.0"/>
<line x1="93.82" y1="638.80" x2="93.82" y2="640.30" stroke="#2e2e2e" stroke-width="0.6"/>
<line x1="97.34" y1="638.80" x2="97.34" y2="640.30" stroke="#2e2e2e" stroke-width="0.6"/>
<line x1="99.84" y1="638.80" x2="99.84" y2="640.30" stroke="#2e2e2e" stroke-width="0.6"/>
<line x1="101.78" y1="638.80" x2="101.78" y2="640.30" stroke="#2e2e2e" stroke-width="0.6"/>
<line x1="103.36" y1="638.80" x2="103.36" y2="640.30" stroke="#2e2e2e" stroke-width="0.6"/>
<line x1="104.70" y1="638.80" x2="104.70" y2="640.30" stroke="#2e2e2e" stroke-width="0.6"/>
<line x1="105.86" y1="638.80" x2="105.86" y2="640.30" stroke="#2e2e2e" stroke-width="0.6"/>
<line x1="106.88" y1="638.80" x2="106.88" y2="640.30" stroke="#2e2e2e" stroke-width="0.6"/>
<line x1="107.80" y1="638.80" x2="107.80" y2="641.60" stroke="#2e2e2e" stroke-width="1.0"/>
<line x1="113.76" y1="638.80" x2="113.76" y2="640.30" stroke="#2e2e2e" stroke-width="0.6"/>
<line x1="117.25" y1="638.80" x2="117.25" y2="640.30" stroke="#2e2e2e" stroke-width="0.6"/>
<line x1="119.72" y1="638.80" x2="119.72" y2="640.30" stroke="#2e2e2e" stroke-width="0.6"/>
<line x1="121.64" y1="638.80" x2="121.64" y2="640.30" stroke="#2e2e2e" stroke-width="0.6"/>
<line x1="123.21" y1="638.80" x2="123.21" y2="640.30" stroke="#2e2e2e" stroke-width="0.6"/>
<line x1="124.53" y1="638.80" x2="124.53" y2="640.30" stroke="#2e2e2e" stroke-width="0.6"/>
<line x1="125.68" y1="638.80" x2="125.68" y2="640.30" stroke="#2e2e2e" stroke-width="0.6"/>
<line x1="126.69" y1="638.80" x2="126.69" y2="640.30" stroke="#2e2e2e" stroke-width="0.6"/>
<line x1="127.60" y1="638.80" x2="127.60" y2="641.60" stroke="#2e2e2e" stroke-width="1.0"/>
<line x1="39.36" y1="638.80" x2="39.36" y2="640.30" stroke="#2e2e2e" stroke-width="0.6"/>
<line x1="41.32" y1="638.80" x2="41.32" y2="640.30" stroke="#2e2e2e" stroke-width="0.6"/>
<line x1="42.92" y1="638.80" x2="42.92" y2="640.30" stroke="#2e2e2e" stroke-width="0.6"/>
<line x1="44.27" y1="638.80" x2="44.27" y2="640.30" stroke="#2e2e2e" stroke-width="0.6"/>
<line x1="45.44" y1="638.80" x2="45.44" y2="640.30" stroke="#2e2e2e" stroke-width="0.6"/>
<line x1="46.48" y1="638.80" x2="46.48" y2="640.30" stroke="#2e2e2e" stroke-width="0.6"/>
<text x="42.20" y="651.92" font-size="7.6" fill="#333333" stroke="#333333" stroke-width="0.12" textLength="7.61" lengthAdjust="spacingAndGlyphs">10</text>
<text x="50.41" y="648.66" font-size="5.4719999999999995" fill="#333333" stroke="#333333" stroke-width="0.12" textLength="4.86" lengthAdjust="spacingAndGlyphs">-1</text>
<text x="62.90" y="651.92" font-size="7.6" fill="#333333" stroke="#333333" stroke-width="0.12" textLength="7.61" lengthAdjust="spacingAndGlyphs">10</text>
<text x="71.11" y="648.66" font-size="5.4719999999999995" fill="#333333" stroke="#333333" stroke-width="0.12" textLength="3.04" lengthAdjust="spacingAndGlyphs">0</text>
<text x="83.40" y="651.92" font-size="7.6" fill="#333333" stroke="#333333" stroke-width="0.12" textLength="7.61" lengthAdjust="spacingAndGlyphs">10</text>
<text x="91.61" y="648.66" font-size="5.4719999999999995" fill="#333333" stroke="#333333" stroke-width="0.12" textLength="3.04" lengthAdjust="spacingAndGlyphs">1</text>
<text x="103.30" y="651.92" font-size="7.6" fill="#333333" stroke="#333333" stroke-width="0.12" textLength="7.61" lengthAdjust="spacingAndGlyphs">10</text>
<text x="111.51" y="648.66" font-size="5.4719999999999995" fill="#333333" stroke="#333333" stroke-width="0.12" textLength="3.04" lengthAdjust="spacingAndGlyphs">2</text>
<text x="123.00" y="651.92" font-size="7.6" fill="#333333" stroke="#333333" stroke-width="0.12" textLength="7.61" lengthAdjust="spacingAndGlyphs">10</text>
<text x="131.21" y="648.66" font-size="5.4719999999999995" fill="#333333" stroke="#333333" stroke-width="0.12" textLength="3.04" lengthAdjust="spacingAndGlyphs">3</text>
<text x="97.35" y="664.12" font-size="9.4" fill="#333333" stroke="#333333" stroke-width="0.12" text-anchor="middle" textLength="13.10" lengthAdjust="spacingAndGlyphs">GFP</text>
<text x="0" y="3.51" font-size="9.8" fill="#333333" stroke="#333333" stroke-width="0.12" text-anchor="middle" textLength="13.00" lengthAdjust="spacingAndGlyphs" transform="translate(9.30 574.20) rotate(-90)">SSC</text>
<line x1="10.40" y1="661.30" x2="10.40" y2="590.50" stroke="#111" stroke-width="1.0"/>
<polygon points="10.40,586.00 7.10,593.70 10.40,591.60 13.70,593.70" fill="#111" stroke="none" stroke-width="0"/>
<line x1="9.90" y1="661.30" x2="78.00" y2="661.30" stroke="#111" stroke-width="1.0"/>
<polygon points="81.60,661.30 75.20,658.50 76.80,661.30 75.20,664.10" fill="#111" stroke="none" stroke-width="0"/>
<line x1="128.60" y1="595.40" x2="144.00" y2="595.40" stroke="#9a9a9a" stroke-width="0.9"/>
<polyline points="140.20,592.60 144.60,595.40 140.20,598.20" fill="none" stroke="#9a9a9a" stroke-width="0.9"/>
<line x1="175.90" y1="547.50" x2="269.40" y2="547.50" stroke="#b6b6b6" stroke-width="0.9"/>
<line x1="175.90" y1="558.50" x2="269.40" y2="558.50" stroke="#b6b6b6" stroke-width="0.9"/>
<line x1="175.90" y1="569.50" x2="269.40" y2="569.50" stroke="#b2b6b4" stroke-width="0.9"/>
<line x1="175.90" y1="580.50" x2="269.40" y2="580.50" stroke="#a9b2ad" stroke-width="0.9"/>
<line x1="175.90" y1="591.50" x2="269.40" y2="591.50" stroke="#8fa698" stroke-width="0.9"/>
<line x1="175.90" y1="602.50" x2="269.40" y2="602.50" stroke="#6f9080" stroke-width="0.9"/>
<line x1="175.90" y1="613.50" x2="269.40" y2="613.50" stroke="#64907c" stroke-width="0.9"/>
<line x1="175.90" y1="624.50" x2="269.40" y2="624.50" stroke="#90c4e8" stroke-width="0.9"/>
<line x1="175.90" y1="635.50" x2="269.40" y2="635.50" stroke="#90c4e8" stroke-width="0.9"/>
<path d="M177.20,547.50 L177.80,544.50 L179.50,541.50 L182.50,538.50 L186.00,536.00 L189.00,533.50 L191.00,532.00 L193.00,529.70 L195.20,528.90 L196.80,530.30 L198.50,534.00 L200.50,539.50 L202.50,545.00 L203.80,547.50 Z" fill="#eeeeee" stroke="#d5d5d5" stroke-width="0.6" fill-opacity="1.0" stroke-linejoin="round"/>
<path d="M178.00,558.50 L178.40,553.50 L180.00,548.50 L183.00,545.00 L187.00,543.00 L190.00,541.50 L192.50,539.70 L194.50,541.00 L197.50,543.50 L200.00,547.00 L202.50,553.00 L205.00,558.50 Z" fill="#e5e5e5" stroke="#cdcdcd" stroke-width="0.6" fill-opacity="1.0" stroke-linejoin="round"/>
<path d="M207.60,569.50 L207.88,569.43 L208.15,569.40 L208.42,569.35 L208.70,569.29 L208.97,569.20 L209.25,569.07 L209.53,568.90 L209.80,568.68 L210.07,568.39 L210.35,568.02 L210.62,567.55 L210.90,566.97 L211.17,566.27 L211.45,565.43 L211.72,564.46 L212.00,563.36 L212.28,562.13 L212.55,560.80 L212.82,559.40 L213.10,557.98 L213.38,556.60 L213.65,555.32 L213.92,554.21 L214.20,553.36 L214.47,552.87 L214.75,552.90 L215.03,553.62 L215.30,554.92 L215.57,556.67 L215.85,558.67 L216.12,560.73 L216.40,562.69 L216.67,564.43 L216.95,565.88 L217.22,567.02 L217.50,567.87 L217.78,568.48 L218.05,568.88 L218.32,569.14 L218.60,569.50 Z" fill="#dcdfdc" stroke="#c8ccc9" stroke-width="0.6" fill-opacity="1.0" stroke-linejoin="round"/>
<path d="M208.00,580.50 L208.60,580.03 L209.20,579.91 L209.80,579.75 L210.40,579.56 L211.00,579.33 L211.60,579.05 L212.20,578.71 L212.80,578.31 L213.40,577.84 L214.00,577.28 L214.60,576.63 L215.20,575.89 L215.80,575.03 L216.40,574.08 L217.00,573.01 L217.60,571.83 L218.20,570.56 L218.80,569.22 L219.40,567.82 L220.00,566.40 L220.60,565.02 L221.20,563.75 L221.80,562.70 L222.40,562.10 L223.00,562.53 L223.60,563.76 L224.20,565.63 L224.80,567.90 L225.40,570.32 L226.00,572.65 L226.60,574.73 L227.20,576.45 L227.80,577.79 L228.40,578.77 L229.00,579.45 L229.60,579.89 L230.20,580.16 L230.80,580.32 L231.40,580.41 L232.00,580.50 Z" fill="#c0cac3" stroke="#aab8ae" stroke-width="0.6" fill-opacity="1.0" stroke-linejoin="round"/>
<path d="M210.50,591.50 L211.25,591.21 L212.00,591.12 L212.75,591.02 L213.50,590.89 L214.25,590.74 L215.00,590.54 L215.75,590.31 L216.50,590.02 L217.25,589.68 L218.00,589.27 L218.75,588.80 L219.50,588.23 L220.25,587.58 L221.00,586.84 L221.75,585.99 L222.50,585.04 L223.25,583.99 L224.00,582.84 L224.75,581.60 L225.50,580.31 L226.25,578.98 L227.00,577.66 L227.75,576.40 L228.50,575.30 L229.25,574.48 L230.00,574.43 L230.75,575.34 L231.50,577.00 L232.25,579.16 L233.00,581.54 L233.75,583.88 L234.50,585.97 L235.25,587.70 L236.00,589.02 L236.75,589.96 L237.50,590.60 L238.25,591.00 L239.00,591.24 L239.75,591.37 L240.50,591.50 Z" fill="#9db4a5" stroke="#88a493" stroke-width="0.6" fill-opacity="1.0" stroke-linejoin="round"/>
<path d="M212.50,602.50 L213.35,602.05 L214.20,601.91 L215.05,601.74 L215.90,601.52 L216.75,601.25 L217.60,600.92 L218.45,600.53 L219.30,600.04 L220.15,599.47 L221.00,598.80 L221.85,598.02 L222.70,597.12 L223.55,596.11 L224.40,594.98 L225.25,593.74 L226.10,592.40 L226.95,591.00 L227.80,589.55 L228.65,588.11 L229.50,586.74 L230.35,585.51 L231.20,584.52 L232.05,583.93 L232.90,584.23 L233.75,585.48 L234.60,587.47 L235.45,589.91 L236.30,592.51 L237.15,594.98 L238.00,597.14 L238.85,598.88 L239.70,600.18 L240.55,601.09 L241.40,601.69 L242.25,602.06 L243.10,602.27 L243.95,602.39 L244.80,602.45 L245.65,602.48 L246.50,602.50 Z" fill="#689880" stroke="#588a70" stroke-width="0.6" fill-opacity="1.0" stroke-linejoin="round"/>
<path d="M219.50,613.50 L220.21,612.47 L220.93,612.25 L221.64,611.99 L222.35,611.68 L223.06,611.32 L223.78,610.91 L224.49,610.44 L225.20,609.90 L225.91,609.29 L226.62,608.61 L227.34,607.86 L228.05,607.03 L228.76,606.13 L229.47,605.17 L230.19,604.13 L230.90,603.05 L231.61,601.92 L232.32,600.77 L233.04,599.61 L233.75,598.47 L234.46,597.37 L235.18,596.34 L235.89,595.41 L236.60,594.64 L237.31,594.05 L238.03,593.72 L238.74,594.01 L239.45,595.30 L240.16,597.42 L240.88,600.05 L241.59,602.86 L242.30,605.52 L243.01,607.84 L243.72,609.70 L244.44,611.09 L245.15,612.05 L245.86,612.67 L246.57,613.05 L247.29,613.27 L248.00,613.50 Z" fill="#2e7756" stroke="#25654a" stroke-width="0.6" fill-opacity="1.0" stroke-linejoin="round"/>
<path d="M214.10,624.50 L216.50,619.50 L219.50,613.50 L220.80,607.00 L222.30,604.90 L223.60,606.90 L225.00,606.50 L226.60,608.90 L228.40,608.50 L230.40,612.30 L233.40,615.30 L235.80,620.00 L237.70,624.50 Z" fill="#dbe6f8" stroke="#8ec3e8" stroke-width="0.65" fill-opacity="0.55" stroke-linejoin="round"/>
<path d="M212.70,635.50 L215.50,631.00 L218.00,626.00 L221.00,619.10 L223.40,616.70 L225.80,617.70 L228.00,615.70 L230.00,618.30 L232.20,622.30 L235.00,629.00 L238.70,635.50 Z" fill="#cfdef6" stroke="#8ec3e8" stroke-width="0.65" fill-opacity="0.7" stroke-linejoin="round"/>
<path d="M216.50,647.00 L217.80,641.50 L219.80,639.00 L223.00,638.20 L225.80,635.00 L228.40,629.40 L230.40,627.80 L232.20,631.00 L234.20,638.00 L236.70,647.00 Z" fill="#c8daf5" stroke="#8ec3e8" stroke-width="0.65" fill-opacity="0.75" stroke-linejoin="round"/>
<path d="M175.9,647.0 L175.9,524.3 L269.4,524.3 L269.4,647.0" fill="none" stroke="#2e2e2e" stroke-width="1.1"/>
<line x1="175.35" y1="647.00" x2="269.95" y2="647.00" stroke="#2e2e2e" stroke-width="1.1"/>
<line x1="189.00" y1="647.00" x2="189.00" y2="649.30" stroke="#2e2e2e" stroke-width="0.9"/>
<line x1="215.60" y1="647.00" x2="215.60" y2="649.30" stroke="#2e2e2e" stroke-width="0.9"/>
<line x1="242.60" y1="647.00" x2="242.60" y2="649.30" stroke="#2e2e2e" stroke-width="0.9"/>
<line x1="268.80" y1="647.00" x2="268.80" y2="649.30" stroke="#2e2e2e" stroke-width="0.9"/>
<line x1="178.41" y1="647.00" x2="178.41" y2="648.30" stroke="#2e2e2e" stroke-width="0.5"/>
<line x1="180.99" y1="647.00" x2="180.99" y2="648.30" stroke="#2e2e2e" stroke-width="0.5"/>
<line x1="183.10" y1="647.00" x2="183.10" y2="648.30" stroke="#2e2e2e" stroke-width="0.5"/>
<line x1="184.88" y1="647.00" x2="184.88" y2="648.30" stroke="#2e2e2e" stroke-width="0.5"/>
<line x1="186.42" y1="647.00" x2="186.42" y2="648.30" stroke="#2e2e2e" stroke-width="0.5"/>
<line x1="187.78" y1="647.00" x2="187.78" y2="648.30" stroke="#2e2e2e" stroke-width="0.5"/>
<line x1="197.01" y1="647.00" x2="197.01" y2="648.30" stroke="#2e2e2e" stroke-width="0.5"/>
<line x1="201.69" y1="647.00" x2="201.69" y2="648.30" stroke="#2e2e2e" stroke-width="0.5"/>
<line x1="205.01" y1="647.00" x2="205.01" y2="648.30" stroke="#2e2e2e" stroke-width="0.5"/>
<line x1="207.59" y1="647.00" x2="207.59" y2="648.30" stroke="#2e2e2e" stroke-width="0.5"/>
<line x1="209.70" y1="647.00" x2="209.70" y2="648.30" stroke="#2e2e2e" stroke-width="0.5"/>
<line x1="211.48" y1="647.00" x2="211.48" y2="648.30" stroke="#2e2e2e" stroke-width="0.5"/>
<line x1="213.02" y1="647.00" x2="213.02" y2="648.30" stroke="#2e2e2e" stroke-width="0.5"/>
<line x1="214.38" y1="647.00" x2="214.38" y2="648.30" stroke="#2e2e2e" stroke-width="0.5"/>
<line x1="223.61" y1="647.00" x2="223.61" y2="648.30" stroke="#2e2e2e" stroke-width="0.5"/>
<line x1="228.29" y1="647.00" x2="228.29" y2="648.30" stroke="#2e2e2e" stroke-width="0.5"/>
<line x1="231.61" y1="647.00" x2="231.61" y2="648.30" stroke="#2e2e2e" stroke-width="0.5"/>
<line x1="234.19" y1="647.00" x2="234.19" y2="648.30" stroke="#2e2e2e" stroke-width="0.5"/>
<line x1="236.30" y1="647.00" x2="236.30" y2="648.30" stroke="#2e2e2e" stroke-width="0.5"/>
<line x1="238.08" y1="647.00" x2="238.08" y2="648.30" stroke="#2e2e2e" stroke-width="0.5"/>
<line x1="239.62" y1="647.00" x2="239.62" y2="648.30" stroke="#2e2e2e" stroke-width="0.5"/>
<line x1="240.98" y1="647.00" x2="240.98" y2="648.30" stroke="#2e2e2e" stroke-width="0.5"/>
<line x1="250.21" y1="647.00" x2="250.21" y2="648.30" stroke="#2e2e2e" stroke-width="0.5"/>
<line x1="254.89" y1="647.00" x2="254.89" y2="648.30" stroke="#2e2e2e" stroke-width="0.5"/>
<line x1="258.21" y1="647.00" x2="258.21" y2="648.30" stroke="#2e2e2e" stroke-width="0.5"/>
<line x1="260.79" y1="647.00" x2="260.79" y2="648.30" stroke="#2e2e2e" stroke-width="0.5"/>
<line x1="262.90" y1="647.00" x2="262.90" y2="648.30" stroke="#2e2e2e" stroke-width="0.5"/>
<line x1="264.68" y1="647.00" x2="264.68" y2="648.30" stroke="#2e2e2e" stroke-width="0.5"/>
<line x1="266.22" y1="647.00" x2="266.22" y2="648.30" stroke="#2e2e2e" stroke-width="0.5"/>
<line x1="267.58" y1="647.00" x2="267.58" y2="648.30" stroke="#2e2e2e" stroke-width="0.5"/>
<text x="183.80" y="660.22" font-size="7.6" fill="#333333" stroke="#333333" stroke-width="0.12" textLength="7.61" lengthAdjust="spacingAndGlyphs">10</text>
<text x="192.01" y="656.96" font-size="5.4719999999999995" fill="#333333" stroke="#333333" stroke-width="0.12" textLength="3.04" lengthAdjust="spacingAndGlyphs">0</text>
<text x="210.40" y="660.22" font-size="7.6" fill="#333333" stroke="#333333" stroke-width="0.12" textLength="7.61" lengthAdjust="spacingAndGlyphs">10</text>
<text x="218.61" y="656.96" font-size="5.4719999999999995" fill="#333333" stroke="#333333" stroke-width="0.12" textLength="3.04" lengthAdjust="spacingAndGlyphs">1</text>
<text x="237.70" y="660.22" font-size="7.6" fill="#333333" stroke="#333333" stroke-width="0.12" textLength="7.61" lengthAdjust="spacingAndGlyphs">10</text>
<text x="245.91" y="656.96" font-size="5.4719999999999995" fill="#333333" stroke="#333333" stroke-width="0.12" textLength="3.04" lengthAdjust="spacingAndGlyphs">2</text>
<text x="264.20" y="660.22" font-size="7.6" fill="#333333" stroke="#333333" stroke-width="0.12" textLength="7.61" lengthAdjust="spacingAndGlyphs">10</text>
<text x="272.41" y="656.96" font-size="5.4719999999999995" fill="#333333" stroke="#333333" stroke-width="0.12" textLength="3.04" lengthAdjust="spacingAndGlyphs">3</text>
<line x1="176.20" y1="669.60" x2="219.00" y2="669.60" stroke="#111" stroke-width="1.0"/>
<polygon points="224.20,669.60 217.80,666.80 219.40,669.60 217.80,672.40" fill="#111" stroke="none" stroke-width="0"/>
<text x="241.90" y="672.28" font-size="8.6" fill="#333333" stroke="#333333" stroke-width="0.12" text-anchor="middle" textLength="18.70" lengthAdjust="spacingAndGlyphs">CD3E</text>
<text x="0" y="3.44" font-size="9.6" fill="#333333" stroke="#333333" stroke-width="0.12" text-anchor="middle" textLength="107.70" lengthAdjust="spacingAndGlyphs" transform="translate(166.60 585.40) rotate(-90)">MYCN-driven T cell lymphomas</text>
<text x="274.40" y="529.34" font-size="8.2" fill="#cacaca" stroke="#cacaca" stroke-width="0.12" textLength="61.50" lengthAdjust="spacingAndGlyphs">GFP– CD3E– cells</text>
<text x="274.40" y="541.44" font-size="8.2" fill="#1d5e46" stroke="#1d5e46" stroke-width="0.12" textLength="37.00" lengthAdjust="spacingAndGlyphs">GFP+ cells</text>
<text x="274.40" y="553.54" font-size="8.2" fill="#3f9fd9" stroke="#3f9fd9" stroke-width="0.12" textLength="62.00" lengthAdjust="spacingAndGlyphs">GFP– CD3E+ cells</text>
<circle cx="408.70" cy="619.60" r="2.3" fill="#c4c4c4" stroke="none" stroke-width="0"/>
<circle cx="420.80" cy="619.60" r="2.3" fill="#c4c4c4" stroke="none" stroke-width="0"/>
<circle cx="414.60" cy="619.60" r="2.3" fill="#c4c4c4" stroke="none" stroke-width="0"/>
<line x1="410.50" y1="620.00" x2="419.50" y2="620.00" stroke="#333" stroke-width="1.2"/>
<line x1="441.00" y1="568.10" x2="441.00" y2="610.80" stroke="#2f3a36" stroke-width="1.1"/>
<line x1="436.20" y1="568.10" x2="445.80" y2="568.10" stroke="#2f3a36" stroke-width="1.1"/>
<line x1="436.20" y1="610.80" x2="445.80" y2="610.80" stroke="#2f3a36" stroke-width="1.1"/>
<line x1="432.70" y1="589.20" x2="449.60" y2="589.20" stroke="#2f3a36" stroke-width="1.1"/>
<circle cx="441.00" cy="556.90" r="2.1" fill="#0f5e48" stroke="none" stroke-width="0"/>
<circle cx="441.00" cy="583.80" r="2.1" fill="#0f5e48" stroke="none" stroke-width="0"/>
<circle cx="441.00" cy="591.20" r="2.1" fill="#0f5e48" stroke="none" stroke-width="0"/>
<circle cx="441.00" cy="603.70" r="2.1" fill="#0f5e48" stroke="none" stroke-width="0"/>
<circle cx="441.00" cy="612.30" r="2.1" fill="#0f5e48" stroke="none" stroke-width="0"/>
<line x1="458.50" y1="595.20" x2="475.50" y2="595.20" stroke="#333" stroke-width="1.0"/>
<circle cx="460.80" cy="594.40" r="2.3" fill="#3d9bd6" stroke="none" stroke-width="0"/>
<circle cx="466.90" cy="591.90" r="2.3" fill="#3d9bd6" stroke="none" stroke-width="0"/>
<circle cx="473.70" cy="594.40" r="2.3" fill="#3d9bd6" stroke="none" stroke-width="0"/>
<line x1="398.10" y1="535.40" x2="398.10" y2="621.58" stroke="#2e2e2e" stroke-width="1.15"/>
<line x1="394.50" y1="536.90" x2="398.10" y2="536.90" stroke="#2e2e2e" stroke-width="1.15"/>
<text x="391.20" y="539.84" font-size="8.2" fill="#333333" stroke="#333333" stroke-width="0.12" text-anchor="end" textLength="8.66" lengthAdjust="spacingAndGlyphs">75</text>
<line x1="394.50" y1="564.93" x2="398.10" y2="564.93" stroke="#2e2e2e" stroke-width="1.15"/>
<text x="391.20" y="567.87" font-size="8.2" fill="#333333" stroke="#333333" stroke-width="0.12" text-anchor="end" textLength="8.66" lengthAdjust="spacingAndGlyphs">50</text>
<line x1="394.50" y1="592.97" x2="398.10" y2="592.97" stroke="#2e2e2e" stroke-width="1.15"/>
<text x="391.20" y="595.90" font-size="8.2" fill="#333333" stroke="#333333" stroke-width="0.12" text-anchor="end" textLength="8.66" lengthAdjust="spacingAndGlyphs">25</text>
<line x1="394.50" y1="621.00" x2="398.10" y2="621.00" stroke="#2e2e2e" stroke-width="1.15"/>
<text x="391.20" y="623.94" font-size="8.2" fill="#333333" stroke="#333333" stroke-width="0.12" text-anchor="end" textLength="4.33" lengthAdjust="spacingAndGlyphs">0</text>
<line x1="397.53" y1="621.00" x2="484.20" y2="621.00" stroke="#2e2e2e" stroke-width="1.15"/>
<line x1="414.60" y1="621.00" x2="414.60" y2="623.50" stroke="#2e2e2e" stroke-width="1.15"/>
<line x1="441.00" y1="621.00" x2="441.00" y2="623.50" stroke="#2e2e2e" stroke-width="1.15"/>
<line x1="466.90" y1="621.00" x2="466.90" y2="623.50" stroke="#2e2e2e" stroke-width="1.15"/>
<text x="0" y="0" font-size="8" fill="#333333" stroke="#333333" stroke-width="0.12" text-anchor="end" textLength="49" lengthAdjust="spacingAndGlyphs" transform="translate(418.20 632.20) rotate(-45)">GFP– CD3E–</text>
<text x="0" y="0" font-size="8" fill="#333333" stroke="#333333" stroke-width="0.12" text-anchor="end" textLength="22" lengthAdjust="spacingAndGlyphs" transform="translate(444.60 632.20) rotate(-45)">GFP+</text>
<text x="0" y="0" font-size="8" fill="#333333" stroke="#333333" stroke-width="0.12" text-anchor="end" textLength="50" lengthAdjust="spacingAndGlyphs" transform="translate(470.50 632.20) rotate(-45)">GFP– CD3E+</text>
<text x="0" y="3.22" font-size="9" fill="#333333" stroke="#333333" stroke-width="0.12" text-anchor="middle" textLength="92.00" lengthAdjust="spacingAndGlyphs" transform="translate(362.20 578.30) rotate(-90)">Mean fluorescence intensity</text>
<text x="0" y="3.22" font-size="9" fill="#333333" stroke="#333333" stroke-width="0.12" text-anchor="middle" textLength="48.80" lengthAdjust="spacingAndGlyphs" transform="translate(373.60 581.20) rotate(-90)">CD3E VioBlue</text>
</svg></body></html>
